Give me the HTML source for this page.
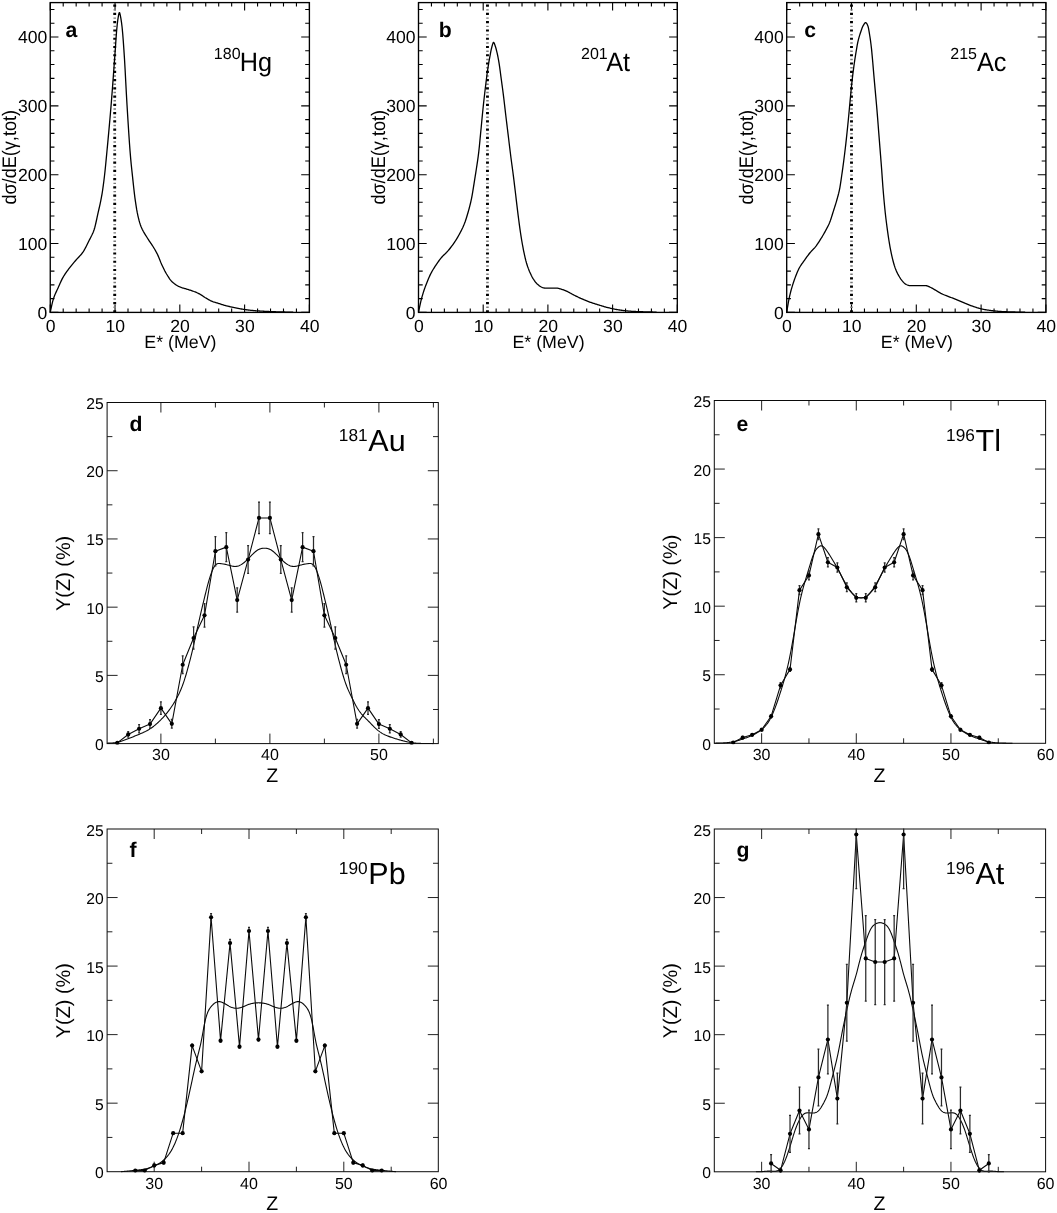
<!DOCTYPE html>
<html><head><meta charset="utf-8"><title>Figure</title>
<style>
html,body{margin:0;padding:0;background:#fff;}
body{width:1057px;height:1213px;overflow:hidden;font-family:"Liberation Sans", sans-serif;}
svg{display:block;filter:blur(0.3px);}
text{text-rendering:geometricPrecision;}
</style></head><body>
<svg width="1057" height="1213" viewBox="0 0 1057 1213">
<rect width="1057" height="1213" fill="#fff"/>
<g id="top" stroke="#000" fill="none">
<rect x="50.25" y="2.6" width="259.15" height="309.8" stroke-width="1.35"/>
<path d="M50.25 312.4v-8M50.25 2.6v8M63.21 312.4v-4M63.21 2.6v4M76.16 312.4v-4M76.16 2.6v4M89.12 312.4v-4M89.12 2.6v4M102.08 312.4v-4M102.08 2.6v4M115.04 312.4v-8M115.04 2.6v8M128 312.4v-4M128 2.6v4M140.95 312.4v-4M140.95 2.6v4M153.91 312.4v-4M153.91 2.6v4M166.87 312.4v-4M166.87 2.6v4M179.82 312.4v-8M179.82 2.6v8M192.78 312.4v-4M192.78 2.6v4M205.74 312.4v-4M205.74 2.6v4M218.7 312.4v-4M218.7 2.6v4M231.66 312.4v-4M231.66 2.6v4M244.61 312.4v-8M244.61 2.6v8M257.57 312.4v-4M257.57 2.6v4M270.53 312.4v-4M270.53 2.6v4M283.49 312.4v-4M283.49 2.6v4M296.44 312.4v-4M296.44 2.6v4M309.4 312.4v-8M309.4 2.6v8M50.25 312.4h8.2M309.4 312.4h-8.2M50.25 298.63h4.2M309.4 298.63h-4.2M50.25 284.86h4.2M309.4 284.86h-4.2M50.25 271.09h4.2M309.4 271.09h-4.2M50.25 257.32h4.2M309.4 257.32h-4.2M50.25 243.56h8.2M309.4 243.56h-8.2M50.25 229.79h4.2M309.4 229.79h-4.2M50.25 216.02h4.2M309.4 216.02h-4.2M50.25 202.25h4.2M309.4 202.25h-4.2M50.25 188.48h4.2M309.4 188.48h-4.2M50.25 174.71h8.2M309.4 174.71h-8.2M50.25 160.94h4.2M309.4 160.94h-4.2M50.25 147.17h4.2M309.4 147.17h-4.2M50.25 133.4h4.2M309.4 133.4h-4.2M50.25 119.64h4.2M309.4 119.64h-4.2M50.25 105.87h8.2M309.4 105.87h-8.2M50.25 92.1h4.2M309.4 92.1h-4.2M50.25 78.33h4.2M309.4 78.33h-4.2M50.25 64.56h4.2M309.4 64.56h-4.2M50.25 50.79h4.2M309.4 50.79h-4.2M50.25 37.02h8.2M309.4 37.02h-8.2M50.25 23.25h4.2M309.4 23.25h-4.2M50.25 9.48h4.2M309.4 9.48h-4.2" stroke-width="1.1"/>
<line x1="114.71" y1="4.6" x2="114.71" y2="312.4" stroke-width="2.9" stroke-dasharray="2.2 6.06"/>
<line x1="114.71" y1="9.2" x2="114.71" y2="312.4" stroke-width="2.5" stroke="#7a7a7a" stroke-dasharray="1.4 6.86"/>
<path d="M50.25 312.4 L50.86 309.39 L51.47 306.51 L52.08 303.83 L52.69 301.39 L53.29 299.25 L53.9 297.41 L54.51 295.77 L55.12 294.28 L55.73 292.9 L56.34 291.6 L56.95 290.33 L57.56 289.05 L58.17 287.73 L58.77 286.36 L59.38 284.97 L59.99 283.58 L60.6 282.21 L61.21 280.88 L61.82 279.61 L62.43 278.42 L63.04 277.32 L63.65 276.28 L64.25 275.29 L64.86 274.35 L65.47 273.43 L66.08 272.55 L66.69 271.69 L67.3 270.85 L67.91 270.02 L68.52 269.2 L69.13 268.39 L69.73 267.6 L70.34 266.83 L70.95 266.07 L71.56 265.32 L72.17 264.58 L72.78 263.86 L73.39 263.13 L74 262.42 L74.61 261.7 L75.22 260.99 L75.82 260.27 L76.43 259.56 L77.04 258.88 L77.65 258.22 L78.26 257.58 L78.87 256.94 L79.48 256.3 L80.09 255.64 L80.7 254.96 L81.3 254.25 L81.91 253.49 L82.52 252.68 L83.13 251.79 L83.74 250.84 L84.35 249.81 L84.96 248.73 L85.57 247.6 L86.18 246.43 L86.78 245.23 L87.39 244.01 L88 242.77 L88.61 241.54 L89.22 240.31 L89.83 239.11 L90.44 237.94 L91.05 236.78 L91.66 235.58 L92.26 234.31 L92.87 232.94 L93.48 231.43 L94.09 229.74 L94.7 227.72 L95.31 225.36 L95.92 222.77 L96.53 220.01 L97.14 217.19 L97.74 214.39 L98.35 211.68 L98.96 209.01 L99.57 206.32 L100.18 203.55 L100.79 200.62 L101.4 197.49 L102.01 194.07 L102.62 190.26 L103.22 185.96 L103.83 181.27 L104.44 176.24 L105.05 170.78 L105.66 164.71 L106.27 158.37 L106.88 152.02 L107.49 145.64 L108.1 139.17 L108.7 132.59 L109.31 125.88 L109.92 119.01 L110.53 111.96 L111.14 104.69 L111.75 97.11 L112.36 89.22 L112.97 81.12 L113.58 72.89 L114.19 64.6 L114.79 56.34 L115.4 47.91 L116.01 38.86 L116.62 30.58 L117.23 24.44 L117.84 19.53 L118.45 15.74 L119.06 12.91 L119.67 12.71 L120.27 15.22 L120.88 18.34 L121.49 22.39 L122.1 27.27 L122.71 33.69 L123.32 41.64 L123.93 50.41 L124.54 59.8 L125.15 70.53 L125.75 81.99 L126.36 93.46 L126.97 104.23 L127.58 114.17 L128.19 124.02 L128.8 133.56 L129.41 142.57 L130.02 150.82 L130.63 158.1 L131.23 164.44 L131.84 170.23 L132.45 175.88 L133.06 181.63 L133.67 187.3 L134.28 192.68 L134.89 197.57 L135.5 201.9 L136.11 205.96 L136.71 209.68 L137.32 212.98 L137.93 215.82 L138.54 218.39 L139.15 220.75 L139.76 222.88 L140.37 224.77 L140.98 226.41 L141.59 227.85 L142.19 229.17 L142.8 230.38 L143.41 231.51 L144.02 232.57 L144.63 233.58 L145.24 234.56 L145.85 235.53 L146.46 236.5 L147.07 237.51 L147.67 238.49 L148.28 239.45 L148.89 240.37 L149.5 241.27 L150.11 242.17 L150.72 243.05 L151.33 243.95 L151.94 244.85 L152.55 245.77 L153.15 246.73 L153.76 247.72 L154.37 248.74 L154.98 249.78 L155.59 250.85 L156.2 251.96 L156.81 253.11 L157.42 254.32 L158.03 255.62 L158.64 257.05 L159.24 258.55 L159.85 260.09 L160.46 261.62 L161.07 263.1 L161.68 264.47 L162.29 265.78 L162.9 267.06 L163.51 268.31 L164.12 269.54 L164.72 270.73 L165.33 271.87 L165.94 272.97 L166.55 274.02 L167.16 275.01 L167.77 275.98 L168.38 276.94 L168.99 277.87 L169.6 278.76 L170.2 279.59 L170.81 280.36 L171.42 281.06 L172.03 281.68 L172.64 282.23 L173.25 282.76 L173.86 283.26 L174.47 283.74 L175.08 284.19 L175.68 284.62 L176.29 285.03 L176.9 285.41 L177.51 285.77 L178.12 286.11 L178.73 286.42 L179.34 286.71 L179.95 286.98 L180.56 287.22 L181.16 287.45 L181.77 287.65 L182.38 287.85 L182.99 288.03 L183.6 288.2 L184.21 288.38 L184.82 288.55 L185.43 288.72 L186.04 288.91 L186.64 289.1 L187.25 289.29 L187.86 289.48 L188.47 289.66 L189.08 289.85 L189.69 290.03 L190.3 290.22 L190.91 290.42 L191.52 290.62 L192.12 290.82 L192.73 291.04 L193.34 291.26 L193.95 291.49 L194.56 291.73 L195.17 291.97 L195.78 292.22 L196.39 292.47 L197 292.74 L197.61 293.01 L198.21 293.3 L198.82 293.59 L199.43 293.9 L200.04 294.24 L200.65 294.6 L201.26 294.99 L201.87 295.39 L202.48 295.8 L203.09 296.22 L203.69 296.64 L204.3 297.05 L204.91 297.44 L205.52 297.81 L206.13 298.17 L206.74 298.53 L207.35 298.88 L207.96 299.23 L208.57 299.58 L209.17 299.92 L209.78 300.24 L210.39 300.56 L211 300.85 L211.61 301.13 L212.22 301.38 L212.83 301.62 L213.44 301.84 L214.05 302.04 L214.65 302.24 L215.26 302.42 L215.87 302.6 L216.48 302.78 L217.09 302.96 L217.7 303.14 L218.31 303.33 L218.92 303.52 L219.53 303.72 L220.13 303.92 L220.74 304.12 L221.35 304.33 L221.96 304.53 L222.57 304.73 L223.18 304.93 L223.79 305.12 L224.4 305.3 L225.01 305.47 L225.61 305.63 L226.22 305.79 L226.83 305.94 L227.44 306.09 L228.05 306.23 L228.66 306.37 L229.27 306.5 L229.88 306.64 L230.49 306.77 L231.09 306.91 L231.7 307.04 L232.31 307.18 L232.92 307.31 L233.53 307.45 L234.14 307.58 L234.75 307.71 L235.36 307.85 L235.97 307.97 L236.57 308.1 L237.18 308.22 L237.79 308.34 L238.4 308.46 L239.01 308.57 L239.62 308.68 L240.23 308.79 L240.84 308.9 L241.45 309.01 L242.06 309.11 L242.66 309.21 L243.27 309.31 L243.88 309.4 L244.49 309.49 L245.1 309.58 L245.71 309.67 L246.32 309.75 L246.93 309.83 L247.54 309.92 L248.14 309.99 L248.75 310.07 L249.36 310.14 L249.97 310.21 L250.58 310.28 L251.19 310.34 L251.8 310.41 L252.41 310.46 L253.02 310.52 L253.62 310.58 L254.23 310.63 L254.84 310.68 L255.45 310.73 L256.06 310.78 L256.67 310.82 L257.28 310.87 L257.89 310.91 L258.5 310.95 L259.1 310.99 L259.71 311.02 L260.32 311.06 L260.93 311.1 L261.54 311.13 L262.15 311.17 L262.76 311.2 L263.37 311.24 L263.98 311.27 L264.58 311.3 L265.19 311.33 L265.8 311.36 L266.41 311.39 L267.02 311.42 L267.63 311.45 L268.24 311.48 L268.85 311.5 L269.46 311.53 L270.06 311.56 L270.67 311.58 L271.28 311.6 L271.89 311.63 L272.5 311.65 L273.11 311.67 L273.72 311.69 L274.33 311.72 L274.94 311.74 L275.54 311.76 L276.15 311.78 L276.76 311.8 L277.37 311.82 L277.98 311.83 L278.59 311.85 L279.2 311.87 L279.81 311.89 L280.42 311.91 L281.03 311.92 L281.63 311.94 L282.24 311.95 L282.85 311.97 L283.46 311.99 L284.07 312 L284.68 312.02 L285.29 312.03 L285.9 312.05 L286.51 312.06 L287.11 312.07 L287.72 312.09 L288.33 312.1 L288.94 312.11 L289.55 312.13 L290.16 312.14 L290.77 312.15 L291.38 312.16 L291.99 312.17 L292.59 312.18 L293.2 312.19" stroke-width="1.3" stroke-linejoin="round"/>
<rect x="418.5" y="2.6" width="258.8" height="309.8" stroke-width="1.35"/>
<path d="M418.5 312.4v-8M418.5 2.6v8M431.44 312.4v-4M431.44 2.6v4M444.38 312.4v-4M444.38 2.6v4M457.32 312.4v-4M457.32 2.6v4M470.26 312.4v-4M470.26 2.6v4M483.2 312.4v-8M483.2 2.6v8M496.14 312.4v-4M496.14 2.6v4M509.08 312.4v-4M509.08 2.6v4M522.02 312.4v-4M522.02 2.6v4M534.96 312.4v-4M534.96 2.6v4M547.9 312.4v-8M547.9 2.6v8M560.84 312.4v-4M560.84 2.6v4M573.78 312.4v-4M573.78 2.6v4M586.72 312.4v-4M586.72 2.6v4M599.66 312.4v-4M599.66 2.6v4M612.6 312.4v-8M612.6 2.6v8M625.54 312.4v-4M625.54 2.6v4M638.48 312.4v-4M638.48 2.6v4M651.42 312.4v-4M651.42 2.6v4M664.36 312.4v-4M664.36 2.6v4M677.3 312.4v-8M677.3 2.6v8M418.5 312.4h8.2M677.3 312.4h-8.2M418.5 298.63h4.2M677.3 298.63h-4.2M418.5 284.86h4.2M677.3 284.86h-4.2M418.5 271.09h4.2M677.3 271.09h-4.2M418.5 257.32h4.2M677.3 257.32h-4.2M418.5 243.56h8.2M677.3 243.56h-8.2M418.5 229.79h4.2M677.3 229.79h-4.2M418.5 216.02h4.2M677.3 216.02h-4.2M418.5 202.25h4.2M677.3 202.25h-4.2M418.5 188.48h4.2M677.3 188.48h-4.2M418.5 174.71h8.2M677.3 174.71h-8.2M418.5 160.94h4.2M677.3 160.94h-4.2M418.5 147.17h4.2M677.3 147.17h-4.2M418.5 133.4h4.2M677.3 133.4h-4.2M418.5 119.64h4.2M677.3 119.64h-4.2M418.5 105.87h8.2M677.3 105.87h-8.2M418.5 92.1h4.2M677.3 92.1h-4.2M418.5 78.33h4.2M677.3 78.33h-4.2M418.5 64.56h4.2M677.3 64.56h-4.2M418.5 50.79h4.2M677.3 50.79h-4.2M418.5 37.02h8.2M677.3 37.02h-8.2M418.5 23.25h4.2M677.3 23.25h-4.2M418.5 9.48h4.2M677.3 9.48h-4.2" stroke-width="1.1"/>
<line x1="487.47" y1="4.6" x2="487.47" y2="312.4" stroke-width="2.9" stroke-dasharray="2.2 6.06"/>
<line x1="487.47" y1="9.2" x2="487.47" y2="312.4" stroke-width="2.5" stroke="#7a7a7a" stroke-dasharray="1.4 6.86"/>
<path d="M418.5 312.4 L419.1 309.4 L419.69 306.51 L420.29 303.75 L420.89 301.17 L421.48 298.78 L422.08 296.6 L422.68 294.56 L423.27 292.63 L423.87 290.81 L424.47 289.07 L425.06 287.4 L425.66 285.78 L426.26 284.21 L426.85 282.67 L427.45 281.17 L428.05 279.71 L428.64 278.29 L429.24 276.93 L429.84 275.62 L430.43 274.38 L431.03 273.2 L431.63 272.08 L432.22 271.01 L432.82 269.98 L433.42 268.99 L434.02 268.04 L434.61 267.11 L435.21 266.2 L435.81 265.3 L436.4 264.42 L437 263.54 L437.6 262.68 L438.19 261.83 L438.79 261 L439.39 260.19 L439.98 259.4 L440.58 258.64 L441.18 257.9 L441.77 257.2 L442.37 256.53 L442.97 255.91 L443.56 255.31 L444.16 254.73 L444.76 254.17 L445.35 253.6 L445.95 253.02 L446.55 252.42 L447.14 251.79 L447.74 251.12 L448.34 250.43 L448.93 249.72 L449.53 248.99 L450.13 248.25 L450.72 247.49 L451.32 246.71 L451.92 245.91 L452.51 245.1 L453.11 244.26 L453.71 243.41 L454.3 242.55 L454.9 241.66 L455.5 240.74 L456.09 239.8 L456.69 238.84 L457.29 237.85 L457.88 236.83 L458.48 235.79 L459.08 234.72 L459.67 233.63 L460.27 232.53 L460.87 231.4 L461.46 230.24 L462.06 229.04 L462.66 227.79 L463.25 226.47 L463.85 225.08 L464.45 223.59 L465.05 221.99 L465.64 220.27 L466.24 218.44 L466.84 216.53 L467.43 214.55 L468.03 212.5 L468.63 210.39 L469.22 208.21 L469.82 205.92 L470.42 203.48 L471.01 200.87 L471.61 198.04 L472.21 194.83 L472.8 191.31 L473.4 187.6 L474 183.84 L474.59 180.15 L475.19 176.44 L475.79 172.65 L476.38 168.76 L476.98 164.78 L477.58 160.79 L478.17 156.57 L478.77 151.85 L479.37 146.28 L479.96 140.14 L480.56 133.93 L481.16 127.76 L481.75 121.44 L482.35 115.19 L482.95 109.25 L483.54 103.64 L484.14 98.23 L484.74 93.02 L485.33 87.98 L485.93 83.05 L486.53 78.24 L487.12 73.66 L487.72 69.43 L488.32 65.56 L488.91 61.95 L489.51 58.56 L490.11 55.34 L490.7 52.17 L491.3 49.22 L491.9 46.79 L492.49 44.64 L493.09 42.86 L493.69 42.36 L494.28 43.31 L494.88 44.96 L495.48 46.68 L496.08 48.72 L496.67 51.09 L497.27 53.67 L497.87 56.5 L498.46 59.66 L499.06 63.12 L499.66 67.03 L500.25 71.46 L500.85 76.06 L501.45 80.51 L502.04 84.84 L502.64 89.24 L503.24 93.82 L503.83 98.68 L504.43 103.74 L505.03 108.89 L505.62 113.99 L506.22 118.96 L506.82 123.88 L507.41 128.78 L508.01 133.66 L508.61 138.54 L509.2 143.47 L509.8 148.39 L510.4 153.25 L510.99 157.97 L511.59 162.48 L512.19 166.85 L512.78 171.28 L513.38 175.92 L513.98 180.7 L514.57 185.56 L515.17 190.46 L515.77 195.48 L516.36 200.6 L516.96 205.68 L517.56 210.62 L518.15 215.36 L518.75 220.04 L519.35 224.58 L519.94 228.92 L520.54 232.98 L521.14 236.84 L521.73 240.52 L522.33 244 L522.93 247.24 L523.52 250.26 L524.12 253.17 L524.72 255.94 L525.31 258.52 L525.91 260.89 L526.51 263.01 L527.11 264.94 L527.7 266.73 L528.3 268.39 L528.9 269.94 L529.49 271.4 L530.09 272.78 L530.69 274.1 L531.28 275.34 L531.88 276.51 L532.48 277.59 L533.07 278.58 L533.67 279.52 L534.27 280.42 L534.86 281.26 L535.46 282.05 L536.06 282.78 L536.65 283.44 L537.25 284.03 L537.85 284.59 L538.44 285.12 L539.04 285.61 L539.64 286.05 L540.23 286.43 L540.83 286.74 L541.43 287.02 L542.02 287.3 L542.62 287.54 L543.22 287.76 L543.81 287.92 L544.41 288.01 L545.01 288.04 L545.6 288.06 L546.2 288.08 L546.8 288.09 L547.39 288.1 L547.99 288.1 L548.59 288.1 L549.18 288.1 L549.78 288.1 L550.38 288.1 L550.97 288.1 L551.57 288.1 L552.17 288.1 L552.76 288.1 L553.36 288.1 L553.96 288.1 L554.55 288.1 L555.15 288.1 L555.75 288.1 L556.35 288.1 L556.94 288.13 L557.54 288.21 L558.14 288.32 L558.73 288.47 L559.33 288.63 L559.93 288.8 L560.52 288.97 L561.12 289.14 L561.72 289.32 L562.31 289.51 L562.91 289.72 L563.51 289.94 L564.1 290.17 L564.7 290.41 L565.3 290.66 L565.89 290.92 L566.49 291.18 L567.09 291.44 L567.68 291.71 L568.28 292 L568.88 292.3 L569.47 292.62 L570.07 292.95 L570.67 293.28 L571.26 293.62 L571.86 293.95 L572.46 294.28 L573.05 294.6 L573.65 294.92 L574.25 295.22 L574.84 295.52 L575.44 295.82 L576.04 296.11 L576.63 296.41 L577.23 296.7 L577.83 296.99 L578.42 297.28 L579.02 297.56 L579.62 297.84 L580.21 298.11 L580.81 298.39 L581.41 298.65 L582 298.92 L582.6 299.18 L583.2 299.44 L583.79 299.7 L584.39 299.96 L584.99 300.2 L585.58 300.45 L586.18 300.69 L586.78 300.93 L587.38 301.16 L587.97 301.39 L588.57 301.61 L589.17 301.83 L589.76 302.05 L590.36 302.27 L590.96 302.48 L591.55 302.69 L592.15 302.89 L592.75 303.09 L593.34 303.29 L593.94 303.49 L594.54 303.68 L595.13 303.87 L595.73 304.05 L596.33 304.24 L596.92 304.42 L597.52 304.6 L598.12 304.78 L598.71 304.95 L599.31 305.13 L599.91 305.32 L600.5 305.5 L601.1 305.68 L601.7 305.87 L602.29 306.05 L602.89 306.24 L603.49 306.42 L604.08 306.59 L604.68 306.77 L605.28 306.94 L605.87 307.1 L606.47 307.26 L607.07 307.41 L607.66 307.56 L608.26 307.7 L608.86 307.85 L609.45 307.99 L610.05 308.12 L610.65 308.26 L611.24 308.39 L611.84 308.52 L612.44 308.65 L613.03 308.77 L613.63 308.9 L614.23 309.02 L614.82 309.15 L615.42 309.27 L616.02 309.38 L616.61 309.5 L617.21 309.61 L617.81 309.72 L618.41 309.82 L619 309.91 L619.6 310 L620.2 310.09 L620.79 310.17 L621.39 310.26 L621.99 310.34 L622.58 310.41 L623.18 310.49 L623.78 310.56 L624.37 310.62 L624.97 310.69 L625.57 310.75 L626.16 310.81 L626.76 310.87 L627.36 310.93 L627.95 310.99 L628.55 311.04 L629.15 311.1 L629.74 311.15 L630.34 311.2 L630.94 311.24 L631.53 311.29 L632.13 311.33 L632.73 311.37 L633.32 311.4 L633.92 311.43 L634.52 311.46 L635.11 311.49 L635.71 311.52 L636.31 311.54 L636.9 311.56 L637.5 311.59 L638.1 311.61 L638.69 311.63 L639.29 311.65 L639.89 311.67 L640.48 311.69 L641.08 311.71 L641.68 311.73 L642.27 311.74 L642.87 311.76 L643.47 311.78 L644.06 311.79 L644.66 311.81 L645.26 311.82 L645.85 311.84 L646.45 311.85 L647.05 311.87 L647.65 311.89 L648.24 311.9 L648.84 311.92 L649.44 311.93 L650.03 311.95 L650.63 311.96 L651.23 311.98 L651.82 312 L652.42 312.01 L653.02 312.03 L653.61 312.05 L654.21 312.06 L654.81 312.08 L655.4 312.09 L656 312.11 L656.6 312.12" stroke-width="1.3" stroke-linejoin="round"/>
<rect x="786.7" y="2.6" width="259.2" height="309.8" stroke-width="1.35"/>
<path d="M786.7 312.4v-8M786.7 2.6v8M799.66 312.4v-4M799.66 2.6v4M812.62 312.4v-4M812.62 2.6v4M825.58 312.4v-4M825.58 2.6v4M838.54 312.4v-4M838.54 2.6v4M851.5 312.4v-8M851.5 2.6v8M864.46 312.4v-4M864.46 2.6v4M877.42 312.4v-4M877.42 2.6v4M890.38 312.4v-4M890.38 2.6v4M903.34 312.4v-4M903.34 2.6v4M916.3 312.4v-8M916.3 2.6v8M929.26 312.4v-4M929.26 2.6v4M942.22 312.4v-4M942.22 2.6v4M955.18 312.4v-4M955.18 2.6v4M968.14 312.4v-4M968.14 2.6v4M981.1 312.4v-8M981.1 2.6v8M994.06 312.4v-4M994.06 2.6v4M1007.02 312.4v-4M1007.02 2.6v4M1019.98 312.4v-4M1019.98 2.6v4M1032.94 312.4v-4M1032.94 2.6v4M1045.9 312.4v-8M1045.9 2.6v8M786.7 312.4h8.2M1045.9 312.4h-8.2M786.7 298.63h4.2M1045.9 298.63h-4.2M786.7 284.86h4.2M1045.9 284.86h-4.2M786.7 271.09h4.2M1045.9 271.09h-4.2M786.7 257.32h4.2M1045.9 257.32h-4.2M786.7 243.56h8.2M1045.9 243.56h-8.2M786.7 229.79h4.2M1045.9 229.79h-4.2M786.7 216.02h4.2M1045.9 216.02h-4.2M786.7 202.25h4.2M1045.9 202.25h-4.2M786.7 188.48h4.2M1045.9 188.48h-4.2M786.7 174.71h8.2M1045.9 174.71h-8.2M786.7 160.94h4.2M1045.9 160.94h-4.2M786.7 147.17h4.2M1045.9 147.17h-4.2M786.7 133.4h4.2M1045.9 133.4h-4.2M786.7 119.64h4.2M1045.9 119.64h-4.2M786.7 105.87h8.2M1045.9 105.87h-8.2M786.7 92.1h4.2M1045.9 92.1h-4.2M786.7 78.33h4.2M1045.9 78.33h-4.2M786.7 64.56h4.2M1045.9 64.56h-4.2M786.7 50.79h4.2M1045.9 50.79h-4.2M786.7 37.02h8.2M1045.9 37.02h-8.2M786.7 23.25h4.2M1045.9 23.25h-4.2M786.7 9.48h4.2M1045.9 9.48h-4.2" stroke-width="1.1"/>
<line x1="851.5" y1="4.6" x2="851.5" y2="312.4" stroke-width="2.9" stroke-dasharray="2.2 6.06"/>
<line x1="851.5" y1="9.2" x2="851.5" y2="312.4" stroke-width="2.5" stroke="#7a7a7a" stroke-dasharray="1.4 6.86"/>
<path d="M786.7 312.4 L787.3 308.67 L787.9 305.09 L788.49 301.72 L789.09 298.63 L789.69 295.85 L790.29 293.36 L790.88 291.03 L791.48 288.86 L792.08 286.81 L792.68 284.87 L793.27 283.02 L793.87 281.25 L794.47 279.53 L795.07 277.86 L795.66 276.23 L796.26 274.66 L796.86 273.16 L797.46 271.74 L798.06 270.41 L798.65 269.17 L799.25 268.04 L799.85 266.99 L800.45 266.02 L801.04 265.11 L801.64 264.23 L802.24 263.39 L802.84 262.57 L803.43 261.74 L804.03 260.91 L804.63 260.05 L805.23 259.2 L805.82 258.34 L806.42 257.49 L807.02 256.65 L807.62 255.83 L808.22 255.02 L808.81 254.24 L809.41 253.48 L810.01 252.75 L810.61 252.06 L811.2 251.41 L811.8 250.77 L812.4 250.15 L813 249.53 L813.59 248.9 L814.19 248.25 L814.79 247.57 L815.39 246.85 L815.99 246.09 L816.58 245.29 L817.18 244.45 L817.78 243.59 L818.38 242.7 L818.97 241.79 L819.57 240.86 L820.17 239.92 L820.77 238.97 L821.36 238.01 L821.96 237.04 L822.56 236.04 L823.16 235.02 L823.75 233.98 L824.35 232.92 L824.95 231.84 L825.55 230.74 L826.15 229.64 L826.74 228.53 L827.34 227.41 L827.94 226.24 L828.54 225.01 L829.13 223.69 L829.73 222.25 L830.33 220.66 L830.93 218.92 L831.52 217.09 L832.12 215.2 L832.72 213.28 L833.32 211.38 L833.91 209.52 L834.51 207.66 L835.11 205.78 L835.71 203.86 L836.31 201.87 L836.9 199.79 L837.5 197.69 L838.1 195.53 L838.7 193.2 L839.29 190.59 L839.89 187.52 L840.49 183.87 L841.09 179.88 L841.68 175.78 L842.28 171.64 L842.88 167.32 L843.48 162.83 L844.07 158.22 L844.67 153.47 L845.27 148.52 L845.87 143.35 L846.47 137.93 L847.06 132.29 L847.66 126.48 L848.26 120.51 L848.86 114.22 L849.45 107.78 L850.05 101.43 L850.65 95.1 L851.25 88.8 L851.84 82.89 L852.44 77.59 L853.04 72.68 L853.64 68.1 L854.23 63.78 L854.83 59.71 L855.43 55.87 L856.03 52.22 L856.63 48.63 L857.22 45.19 L857.82 42.14 L858.42 39.62 L859.02 37.37 L859.61 35.34 L860.21 33.47 L860.81 31.7 L861.41 29.95 L862 28.29 L862.6 26.81 L863.2 25.61 L863.8 24.62 L864.4 23.66 L864.99 22.92 L865.59 22.57 L866.19 22.79 L866.79 23.58 L867.38 24.77 L867.98 26.2 L868.58 28.58 L869.18 32.05 L869.77 35.76 L870.37 39.72 L870.97 44.22 L871.57 49.43 L872.16 55.67 L872.76 62.28 L873.36 69.36 L873.96 76.41 L874.56 83.09 L875.15 89.67 L875.75 96.34 L876.35 103.01 L876.95 109.84 L877.54 117.09 L878.14 124.8 L878.74 132.59 L879.34 140.15 L879.93 147.62 L880.53 155.15 L881.13 162.7 L881.73 170.47 L882.32 178.87 L882.92 187.18 L883.52 194.51 L884.12 201.26 L884.72 207.52 L885.31 213.24 L885.91 218.46 L886.51 223.29 L887.11 227.81 L887.7 232.16 L888.3 236.33 L888.9 240.27 L889.5 243.93 L890.09 247.28 L890.69 250.42 L891.29 253.36 L891.89 256.1 L892.48 258.62 L893.08 260.99 L893.68 263.22 L894.28 265.28 L894.88 267.13 L895.47 268.75 L896.07 270.24 L896.67 271.62 L897.27 272.89 L897.86 274.07 L898.46 275.17 L899.06 276.22 L899.66 277.22 L900.25 278.17 L900.85 279.06 L901.45 279.89 L902.05 280.64 L902.64 281.32 L903.24 281.98 L903.84 282.61 L904.44 283.2 L905.04 283.73 L905.63 284.17 L906.23 284.52 L906.83 284.77 L907.43 285.02 L908.02 285.24 L908.62 285.42 L909.22 285.57 L909.82 285.66 L910.41 285.69 L911.01 285.69 L911.61 285.69 L912.21 285.69 L912.81 285.69 L913.4 285.69 L914 285.69 L914.6 285.69 L915.2 285.69 L915.79 285.69 L916.39 285.69 L916.99 285.69 L917.59 285.69 L918.18 285.69 L918.78 285.69 L919.38 285.69 L919.98 285.69 L920.57 285.69 L921.17 285.69 L921.77 285.69 L922.37 285.69 L922.97 285.69 L923.56 285.69 L924.16 285.69 L924.76 285.69 L925.36 285.69 L925.95 285.69 L926.55 285.73 L927.15 285.86 L927.75 286.06 L928.34 286.32 L928.94 286.61 L929.54 286.91 L930.14 287.21 L930.73 287.49 L931.33 287.78 L931.93 288.1 L932.53 288.43 L933.13 288.78 L933.72 289.13 L934.32 289.49 L934.92 289.84 L935.52 290.18 L936.11 290.53 L936.71 290.88 L937.31 291.24 L937.91 291.6 L938.5 291.96 L939.1 292.32 L939.7 292.67 L940.3 293.02 L940.89 293.35 L941.49 293.66 L942.09 293.96 L942.69 294.23 L943.29 294.5 L943.88 294.75 L944.48 294.99 L945.08 295.23 L945.68 295.46 L946.27 295.68 L946.87 295.91 L947.47 296.13 L948.07 296.35 L948.66 296.58 L949.26 296.81 L949.86 297.05 L950.46 297.28 L951.05 297.51 L951.65 297.74 L952.25 297.96 L952.85 298.19 L953.45 298.43 L954.04 298.66 L954.64 298.9 L955.24 299.14 L955.84 299.38 L956.43 299.63 L957.03 299.88 L957.63 300.14 L958.23 300.4 L958.82 300.65 L959.42 300.91 L960.02 301.17 L960.62 301.42 L961.22 301.68 L961.81 301.93 L962.41 302.18 L963.01 302.44 L963.61 302.69 L964.2 302.94 L964.8 303.19 L965.4 303.45 L966 303.69 L966.59 303.94 L967.19 304.18 L967.79 304.42 L968.39 304.65 L968.98 304.88 L969.58 305.1 L970.18 305.33 L970.78 305.55 L971.38 305.77 L971.97 305.98 L972.57 306.2 L973.17 306.4 L973.77 306.61 L974.36 306.81 L974.96 307 L975.56 307.2 L976.16 307.39 L976.75 307.59 L977.35 307.77 L977.95 307.96 L978.55 308.14 L979.14 308.31 L979.74 308.48 L980.34 308.63 L980.94 308.78 L981.54 308.92 L982.13 309.05 L982.73 309.18 L983.33 309.31 L983.93 309.42 L984.52 309.54 L985.12 309.65 L985.72 309.76 L986.32 309.86 L986.91 309.96 L987.51 310.05 L988.11 310.14 L988.71 310.23 L989.3 310.31 L989.9 310.39 L990.5 310.47 L991.1 310.55 L991.7 310.62 L992.29 310.69 L992.89 310.76 L993.49 310.83 L994.09 310.89 L994.68 310.95 L995.28 311.01 L995.88 311.07 L996.48 311.12 L997.07 311.18 L997.67 311.23 L998.27 311.28 L998.87 311.33 L999.46 311.38 L1000.06 311.43 L1000.66 311.47 L1001.26 311.51 L1001.86 311.54 L1002.45 311.57 L1003.05 311.6 L1003.65 311.63 L1004.25 311.66 L1004.84 311.68 L1005.44 311.71 L1006.04 311.73 L1006.64 311.75 L1007.23 311.78 L1007.83 311.8 L1008.43 311.82 L1009.03 311.84 L1009.62 311.86 L1010.22 311.88 L1010.82 311.9 L1011.42 311.92 L1012.02 311.94 L1012.61 311.96 L1013.21 311.97 L1013.81 311.99 L1014.41 312.01 L1015 312.02 L1015.6 312.03 L1016.2 312.05 L1016.8 312.06 L1017.39 312.08 L1017.99 312.09 L1018.59 312.1 L1019.19 312.11 L1019.79 312.12 L1020.38 312.13 L1020.98 312.14 L1021.58 312.15 L1022.18 312.16 L1022.77 312.17 L1023.37 312.17 L1023.97 312.18 L1024.57 312.19 L1025.16 312.19" stroke-width="1.3" stroke-linejoin="round"/>
</g>
<g id="toptext" font-family='"Liberation Sans", sans-serif' fill="#000" opacity="0.999">
<text x="50.55" y="332.4" font-size="17.6" text-anchor="middle">0</text>
<text x="115.34" y="332.4" font-size="17.6" text-anchor="middle">10</text>
<text x="180.12" y="332.4" font-size="17.6" text-anchor="middle">20</text>
<text x="244.91" y="332.4" font-size="17.6" text-anchor="middle">30</text>
<text x="309.7" y="332.4" font-size="17.6" text-anchor="middle">40</text>
<text x="47.25" y="318.7" font-size="17.6" text-anchor="end">0</text>
<text x="47.25" y="249.86" font-size="17.6" text-anchor="end">100</text>
<text x="47.25" y="181.01" font-size="17.6" text-anchor="end">200</text>
<text x="47.25" y="112.17" font-size="17.6" text-anchor="end">300</text>
<text x="47.25" y="43.32" font-size="17.6" text-anchor="end">400</text>
<text x="180.42" y="348" font-size="17.8" text-anchor="middle">E* (MeV)</text>
<text transform="translate(16.25 157.3) rotate(-90) scale(1 1.08)" font-size="18.1" text-anchor="middle">dσ/dE(γ,tot)</text>
<text x="65.45" y="36.8" font-size="21.2" font-weight="bold">a</text>
<text x="240.55" y="58.9" font-size="16" text-anchor="end">180</text>
<text transform="translate(239.65 71.1) scale(0.95 1)" font-size="26.6">Hg</text>
<text x="418.8" y="332.4" font-size="17.6" text-anchor="middle">0</text>
<text x="483.5" y="332.4" font-size="17.6" text-anchor="middle">10</text>
<text x="548.2" y="332.4" font-size="17.6" text-anchor="middle">20</text>
<text x="612.9" y="332.4" font-size="17.6" text-anchor="middle">30</text>
<text x="677.6" y="332.4" font-size="17.6" text-anchor="middle">40</text>
<text x="415.5" y="318.7" font-size="17.6" text-anchor="end">0</text>
<text x="415.5" y="249.86" font-size="17.6" text-anchor="end">100</text>
<text x="415.5" y="181.01" font-size="17.6" text-anchor="end">200</text>
<text x="415.5" y="112.17" font-size="17.6" text-anchor="end">300</text>
<text x="415.5" y="43.32" font-size="17.6" text-anchor="end">400</text>
<text x="548.5" y="348" font-size="17.8" text-anchor="middle">E* (MeV)</text>
<text transform="translate(384.5 157.3) rotate(-90) scale(1 1.08)" font-size="18.1" text-anchor="middle">dσ/dE(γ,tot)</text>
<text x="438.7" y="36.8" font-size="21.2" font-weight="bold">b</text>
<text x="607.7" y="58.9" font-size="16" text-anchor="end">201</text>
<text transform="translate(606.2 71.1) scale(0.95 1)" font-size="26.6">At</text>
<text x="787" y="332.4" font-size="17.6" text-anchor="middle">0</text>
<text x="851.8" y="332.4" font-size="17.6" text-anchor="middle">10</text>
<text x="916.6" y="332.4" font-size="17.6" text-anchor="middle">20</text>
<text x="981.4" y="332.4" font-size="17.6" text-anchor="middle">30</text>
<text x="1046.2" y="332.4" font-size="17.6" text-anchor="middle">40</text>
<text x="783.7" y="318.7" font-size="17.6" text-anchor="end">0</text>
<text x="783.7" y="249.86" font-size="17.6" text-anchor="end">100</text>
<text x="783.7" y="181.01" font-size="17.6" text-anchor="end">200</text>
<text x="783.7" y="112.17" font-size="17.6" text-anchor="end">300</text>
<text x="783.7" y="43.32" font-size="17.6" text-anchor="end">400</text>
<text x="916.9" y="348" font-size="17.8" text-anchor="middle">E* (MeV)</text>
<text transform="translate(752.7 157.3) rotate(-90) scale(1 1.08)" font-size="18.1" text-anchor="middle">dσ/dE(γ,tot)</text>
<text x="804.3" y="36.8" font-size="21.2" font-weight="bold">c</text>
<text x="977" y="58.9" font-size="16" text-anchor="end">215</text>
<text transform="translate(977 71.1) scale(0.95 1)" font-size="26.6">Ac</text>
</g>
<g id="low" stroke="#0a0a0a" fill="none">
<clipPath id="cp0"><rect x="107.1" y="402" width="331.2" height="342.6"/></clipPath>
<rect x="107.1" y="402.5" width="331.2" height="341.1" stroke-width="1"/>
<path d="M160.9 743.6v-10M160.9 402.5v10M269.9 743.6v-10M269.9 402.5v10M378.9 743.6v-10M378.9 402.5v10M215.4 743.6v-5M215.4 402.5v5M324.4 743.6v-5M324.4 402.5v5M433.4 743.6v-5M433.4 402.5v5M107.1 709.49h5.3M438.3 709.49h-5.3M107.1 675.38h10.5M438.3 675.38h-10.5M107.1 641.27h5.3M438.3 641.27h-5.3M107.1 607.16h10.5M438.3 607.16h-10.5M107.1 573.05h5.3M438.3 573.05h-5.3M107.1 538.94h10.5M438.3 538.94h-10.5M107.1 504.83h5.3M438.3 504.83h-5.3M107.1 470.72h10.5M438.3 470.72h-10.5M107.1 436.61h5.3M438.3 436.61h-5.3" stroke-width="0.9"/>
<g clip-path="url(#cp0)">
<path d="M95.5 743.6 L96.18 743.53 L96.85 743.47 L97.53 743.42 L98.21 743.38 L98.89 743.34 L99.56 743.31 L100.24 743.29 L100.92 743.27 L101.59 743.25 L102.27 743.24 L102.95 743.23 L103.63 743.22 L104.3 743.21 L104.98 743.21 L105.66 743.2 L106.33 743.19 L107.01 743.18 L107.69 743.17 L108.37 743.15 L109.04 743.13 L109.72 743.1 L110.4 743.07 L111.07 743.03 L111.75 742.99 L112.43 742.93 L113.11 742.87 L113.78 742.8 L114.46 742.71 L115.14 742.62 L115.81 742.51 L116.49 742.39 L117.17 742.26 L117.85 742.12 L118.52 741.96 L119.2 741.78 L119.88 741.6 L120.55 741.4 L121.23 741.2 L121.91 740.98 L122.59 740.76 L123.26 740.53 L123.94 740.29 L124.62 740.05 L125.29 739.8 L125.97 739.54 L126.65 739.29 L127.33 739.03 L128 738.76 L128.68 738.5 L129.36 738.24 L130.03 737.97 L130.71 737.71 L131.39 737.44 L132.07 737.17 L132.74 736.91 L133.42 736.64 L134.1 736.37 L134.77 736.09 L135.45 735.82 L136.13 735.55 L136.81 735.27 L137.48 734.99 L138.16 734.71 L138.84 734.43 L139.52 734.15 L140.19 733.86 L140.87 733.57 L141.55 733.28 L142.22 732.98 L142.9 732.68 L143.58 732.37 L144.26 732.05 L144.93 731.72 L145.61 731.38 L146.29 731.03 L146.96 730.67 L147.64 730.29 L148.32 729.9 L149 729.5 L149.67 729.07 L150.35 728.64 L151.03 728.18 L151.7 727.71 L152.38 727.22 L153.06 726.71 L153.74 726.19 L154.41 725.65 L155.09 725.1 L155.77 724.53 L156.44 723.94 L157.12 723.34 L157.8 722.72 L158.48 722.09 L159.15 721.45 L159.83 720.79 L160.51 720.12 L161.18 719.43 L161.86 718.73 L162.54 718.02 L163.22 717.29 L163.89 716.54 L164.57 715.78 L165.25 715 L165.92 714.2 L166.6 713.38 L167.28 712.54 L167.96 711.68 L168.63 710.8 L169.31 709.89 L169.99 708.96 L170.66 708.01 L171.34 707.03 L172.02 706.02 L172.7 704.99 L173.37 703.93 L174.05 702.84 L174.73 701.71 L175.4 700.55 L176.08 699.36 L176.76 698.13 L177.44 696.86 L178.11 695.54 L178.79 694.18 L179.47 692.76 L180.14 691.27 L180.82 689.71 L181.5 688.07 L182.18 686.34 L182.85 684.51 L183.53 682.58 L184.21 680.56 L184.88 678.44 L185.56 676.25 L186.24 673.97 L186.92 671.63 L187.59 669.22 L188.27 666.75 L188.95 664.23 L189.62 661.65 L190.3 659.02 L190.98 656.33 L191.66 653.58 L192.33 650.77 L193.01 647.91 L193.69 644.98 L194.36 642 L195.04 638.97 L195.72 635.91 L196.4 632.83 L197.07 629.74 L197.75 626.66 L198.43 623.6 L199.1 620.56 L199.78 617.57 L200.46 614.61 L201.14 611.69 L201.81 608.8 L202.49 605.94 L203.17 603.11 L203.84 600.31 L204.52 597.52 L205.2 594.75 L205.88 592.02 L206.55 589.34 L207.23 586.72 L207.91 584.18 L208.58 581.73 L209.26 579.39 L209.94 577.18 L210.62 575.1 L211.29 573.17 L211.97 571.4 L212.65 569.79 L213.32 568.36 L214 567.11 L214.68 566.05 L215.36 565.19 L216.03 564.53 L216.71 564.05 L217.39 563.73 L218.06 563.55 L218.74 563.47 L219.42 563.48 L220.1 563.54 L220.77 563.62 L221.45 563.72 L222.13 563.82 L222.81 563.92 L223.48 564.03 L224.16 564.15 L224.84 564.28 L225.51 564.41 L226.19 564.56 L226.87 564.73 L227.55 564.91 L228.22 565.09 L228.9 565.28 L229.58 565.47 L230.25 565.65 L230.93 565.82 L231.61 565.98 L232.29 566.12 L232.96 566.24 L233.64 566.33 L234.32 566.4 L234.99 566.43 L235.67 566.42 L236.35 566.36 L237.03 566.26 L237.7 566.11 L238.38 565.91 L239.06 565.66 L239.73 565.36 L240.41 565.02 L241.09 564.64 L241.77 564.22 L242.44 563.77 L243.12 563.28 L243.8 562.76 L244.47 562.21 L245.15 561.63 L245.83 561.03 L246.51 560.4 L247.18 559.76 L247.86 559.1 L248.54 558.42 L249.21 557.74 L249.89 557.04 L250.57 556.35 L251.25 555.65 L251.92 554.97 L252.6 554.29 L253.28 553.63 L253.95 552.99 L254.63 552.38 L255.31 551.79 L255.99 551.24 L256.66 550.73 L257.34 550.26 L258.02 549.83 L258.69 549.46 L259.37 549.14 L260.05 548.88 L260.73 548.67 L261.4 548.51 L262.08 548.38 L262.76 548.3 L263.43 548.24 L264.11 548.22 L264.79 548.22 L265.47 548.24 L266.14 548.3 L266.82 548.38 L267.5 548.51 L268.17 548.67 L268.85 548.88 L269.53 549.14 L270.21 549.46 L270.88 549.83 L271.56 550.26 L272.24 550.73 L272.91 551.24 L273.59 551.79 L274.27 552.38 L274.95 552.99 L275.62 553.63 L276.3 554.29 L276.98 554.97 L277.65 555.65 L278.33 556.35 L279.01 557.04 L279.69 557.74 L280.36 558.42 L281.04 559.1 L281.72 559.76 L282.39 560.4 L283.07 561.03 L283.75 561.63 L284.43 562.21 L285.1 562.76 L285.78 563.28 L286.46 563.77 L287.13 564.22 L287.81 564.64 L288.49 565.02 L289.17 565.36 L289.84 565.66 L290.52 565.91 L291.2 566.11 L291.87 566.26 L292.55 566.36 L293.23 566.42 L293.91 566.43 L294.58 566.4 L295.26 566.33 L295.94 566.24 L296.61 566.12 L297.29 565.98 L297.97 565.82 L298.65 565.65 L299.32 565.47 L300 565.28 L300.68 565.09 L301.35 564.91 L302.03 564.73 L302.71 564.56 L303.39 564.41 L304.06 564.28 L304.74 564.15 L305.42 564.03 L306.09 563.92 L306.77 563.82 L307.45 563.72 L308.13 563.62 L308.8 563.54 L309.48 563.48 L310.16 563.47 L310.84 563.55 L311.51 563.73 L312.19 564.05 L312.87 564.53 L313.54 565.19 L314.22 566.05 L314.9 567.11 L315.58 568.36 L316.25 569.79 L316.93 571.4 L317.61 573.17 L318.28 575.1 L318.96 577.18 L319.64 579.39 L320.32 581.73 L320.99 584.18 L321.67 586.72 L322.35 589.34 L323.02 592.02 L323.7 594.75 L324.38 597.52 L325.06 600.31 L325.73 603.11 L326.41 605.94 L327.09 608.8 L327.76 611.69 L328.44 614.61 L329.12 617.57 L329.8 620.56 L330.47 623.6 L331.15 626.66 L331.83 629.75 L332.5 632.84 L333.18 635.92 L333.86 638.98 L334.54 642 L335.21 644.98 L335.89 647.9 L336.57 650.77 L337.24 653.57 L337.92 656.32 L338.6 659.01 L339.28 661.64 L339.95 664.22 L340.63 666.75 L341.31 669.23 L341.98 671.65 L342.66 674 L343.34 676.28 L344.02 678.48 L344.69 680.59 L345.37 682.61 L346.05 684.52 L346.72 686.31 L347.4 688.01 L348.08 689.61 L348.76 691.15 L349.43 692.62 L350.11 694.05 L350.79 695.45 L351.46 696.83 L352.14 698.21 L352.82 699.6 L353.5 700.97 L354.17 702.32 L354.85 703.64 L355.53 704.92 L356.2 706.16 L356.88 707.35 L357.56 708.47 L358.24 709.53 L358.91 710.53 L359.59 711.48 L360.27 712.38 L360.94 713.23 L361.62 714.05 L362.3 714.83 L362.98 715.58 L363.65 716.3 L364.33 717.01 L365.01 717.7 L365.68 718.38 L366.36 719.05 L367.04 719.72 L367.72 720.39 L368.39 721.07 L369.07 721.76 L369.75 722.46 L370.42 723.16 L371.1 723.86 L371.78 724.55 L372.46 725.25 L373.13 725.94 L373.81 726.61 L374.49 727.28 L375.16 727.94 L375.84 728.57 L376.52 729.19 L377.2 729.79 L377.87 730.36 L378.55 730.91 L379.23 731.43 L379.9 731.92 L380.58 732.39 L381.26 732.82 L381.94 733.24 L382.61 733.63 L383.29 734 L383.97 734.35 L384.64 734.68 L385.32 734.99 L386 735.3 L386.68 735.58 L387.35 735.86 L388.03 736.12 L388.71 736.38 L389.38 736.63 L390.06 736.87 L390.74 737.11 L391.42 737.35 L392.09 737.58 L392.77 737.8 L393.45 738.02 L394.13 738.24 L394.8 738.46 L395.48 738.67 L396.16 738.87 L396.83 739.08 L397.51 739.28 L398.19 739.48 L398.87 739.67 L399.54 739.87 L400.22 740.06 L400.9 740.24 L401.57 740.43 L402.25 740.61 L402.93 740.79 L403.61 740.97 L404.28 741.14 L404.96 741.3 L405.64 741.47 L406.31 741.63 L406.99 741.78 L407.67 741.92 L408.35 742.07 L409.02 742.2 L409.7 742.33 L410.38 742.45 L411.05 742.56 L411.73 742.66 L412.41 742.76 L413.09 742.85 L413.76 742.93 L414.44 743.01 L415.12 743.07 L415.79 743.13 L416.47 743.19 L417.15 743.24 L417.83 743.28 L418.5 743.32 L419.18 743.35 L419.86 743.38 L420.53 743.41 L421.21 743.43 L421.89 743.45 L422.57 743.46 L423.24 743.48 L423.92 743.49 L424.6 743.5 L425.27 743.51 L425.95 743.51 L426.63 743.52 L427.31 743.52 L427.98 743.53 L428.66 743.53 L429.34 743.54 L430.01 743.54 L430.69 743.55 L431.37 743.56 L432.05 743.57 L432.72 743.58 L433.4 743.6" stroke-width="1.1" stroke-linejoin="round"/>
<path d="M117.3 742.92 L128.2 734.46 L139.1 728.73 L150 724.09 L160.9 708.13 L171.8 723.82 L182.7 664.74 L193.6 638 L204.5 615.35 L215.4 551.22 L226.3 547.13 L237.2 600.07 L248.1 559.54 L259 517.93 L269.9 517.93 L280.8 559.54 L291.7 600.07 L302.6 547.13 L313.5 551.22 L324.4 615.35 L335.3 638 L346.2 664.74 L357.1 723.82 L368 708.13 L378.9 724.09 L389.8 728.73 L400.7 734.46 L411.6 742.92" stroke-width="1.1" stroke-linejoin="round"/>
<path d="M117.3 742.24V743.6M116.3 742.24h2M116.3 743.6h2M128.2 731.73V737.19M127.2 731.73h2M127.2 737.19h2M139.1 724.63V732.82M138.1 724.63h2M138.1 732.82h2M150 719.72V728.46M149 719.72h2M149 728.46h2M160.9 701.85V714.4M159.9 701.85h2M159.9 714.4h2M171.8 719.45V728.18M170.8 719.45h2M170.8 728.18h2M182.7 655.87V673.61M181.7 655.87h2M181.7 673.61h2M193.6 626.94V649.05M192.6 626.94h2M192.6 649.05h2M204.5 603.61V627.08M203.5 603.61h2M203.5 627.08h2M215.4 536.62V565.82M214.4 536.62h2M214.4 565.82h2M226.3 532.53V561.73M225.3 532.53h2M225.3 561.73h2M237.2 587.92V612.21M236.2 587.92h2M236.2 612.21h2M248.1 545.63V573.46M247.1 545.63h2M247.1 573.46h2M259 502.24V533.62M258 502.24h2M258 533.62h2M269.9 502.24V533.62M268.9 502.24h2M268.9 533.62h2M280.8 545.63V573.46M279.8 545.63h2M279.8 573.46h2M291.7 587.92V612.21M290.7 587.92h2M290.7 612.21h2M302.6 532.53V561.73M301.6 532.53h2M301.6 561.73h2M313.5 536.62V565.82M312.5 536.62h2M312.5 565.82h2M324.4 603.61V627.08M323.4 603.61h2M323.4 627.08h2M335.3 626.94V649.05M334.3 626.94h2M334.3 649.05h2M346.2 655.87V673.61M345.2 655.87h2M345.2 673.61h2M357.1 719.45V728.18M356.1 719.45h2M356.1 728.18h2M368 701.85V714.4M367 701.85h2M367 714.4h2M378.9 719.72V728.46M377.9 719.72h2M377.9 728.46h2M389.8 724.63V732.82M388.8 724.63h2M388.8 732.82h2M400.7 731.73V737.19M399.7 731.73h2M399.7 737.19h2M411.6 742.24V743.6M410.6 742.24h2M410.6 743.6h2" stroke-width="1.25" stroke="#2a2a2a"/>
<circle cx="117.3" cy="742.92" r="2.1" fill="#000" stroke="none"/>
<circle cx="128.2" cy="734.46" r="2.1" fill="#000" stroke="none"/>
<circle cx="139.1" cy="728.73" r="2.1" fill="#000" stroke="none"/>
<circle cx="150" cy="724.09" r="2.1" fill="#000" stroke="none"/>
<circle cx="160.9" cy="708.13" r="2.1" fill="#000" stroke="none"/>
<circle cx="171.8" cy="723.82" r="2.1" fill="#000" stroke="none"/>
<circle cx="182.7" cy="664.74" r="2.1" fill="#000" stroke="none"/>
<circle cx="193.6" cy="638" r="2.1" fill="#000" stroke="none"/>
<circle cx="204.5" cy="615.35" r="2.1" fill="#000" stroke="none"/>
<circle cx="215.4" cy="551.22" r="2.1" fill="#000" stroke="none"/>
<circle cx="226.3" cy="547.13" r="2.1" fill="#000" stroke="none"/>
<circle cx="237.2" cy="600.07" r="2.1" fill="#000" stroke="none"/>
<circle cx="248.1" cy="559.54" r="2.1" fill="#000" stroke="none"/>
<circle cx="259" cy="517.93" r="2.1" fill="#000" stroke="none"/>
<circle cx="269.9" cy="517.93" r="2.1" fill="#000" stroke="none"/>
<circle cx="280.8" cy="559.54" r="2.1" fill="#000" stroke="none"/>
<circle cx="291.7" cy="600.07" r="2.1" fill="#000" stroke="none"/>
<circle cx="302.6" cy="547.13" r="2.1" fill="#000" stroke="none"/>
<circle cx="313.5" cy="551.22" r="2.1" fill="#000" stroke="none"/>
<circle cx="324.4" cy="615.35" r="2.1" fill="#000" stroke="none"/>
<circle cx="335.3" cy="638" r="2.1" fill="#000" stroke="none"/>
<circle cx="346.2" cy="664.74" r="2.1" fill="#000" stroke="none"/>
<circle cx="357.1" cy="723.82" r="2.1" fill="#000" stroke="none"/>
<circle cx="368" cy="708.13" r="2.1" fill="#000" stroke="none"/>
<circle cx="378.9" cy="724.09" r="2.1" fill="#000" stroke="none"/>
<circle cx="389.8" cy="728.73" r="2.1" fill="#000" stroke="none"/>
<circle cx="400.7" cy="734.46" r="2.1" fill="#000" stroke="none"/>
<circle cx="411.6" cy="742.92" r="2.1" fill="#000" stroke="none"/>
</g>
<clipPath id="cp1"><rect x="714.3" y="400" width="331.3" height="344.3"/></clipPath>
<rect x="714.3" y="400.5" width="331.3" height="342.8" stroke-width="1"/>
<path d="M761.63 743.3v-10M761.63 400.5v10M856.29 743.3v-10M856.29 400.5v10M950.95 743.3v-10M950.95 400.5v10M808.96 743.3v-5M808.96 400.5v5M903.62 743.3v-5M903.62 400.5v5M998.28 743.3v-5M998.28 400.5v5M714.3 709.02h5.3M1045.6 709.02h-5.3M714.3 674.74h10.5M1045.6 674.74h-10.5M714.3 640.46h5.3M1045.6 640.46h-5.3M714.3 606.18h10.5M1045.6 606.18h-10.5M714.3 571.9h5.3M1045.6 571.9h-5.3M714.3 537.62h10.5M1045.6 537.62h-10.5M714.3 503.34h5.3M1045.6 503.34h-5.3M714.3 469.06h10.5M1045.6 469.06h-10.5M714.3 434.78h5.3M1045.6 434.78h-5.3" stroke-width="0.9"/>
<g clip-path="url(#cp1)">
<path d="M709.57 743.3 L710.17 743.29 L710.78 743.27 L711.39 743.26 L712 743.25 L712.6 743.24 L713.21 743.22 L713.82 743.21 L714.42 743.2 L715.03 743.19 L715.64 743.18 L716.24 743.16 L716.85 743.15 L717.46 743.13 L718.07 743.12 L718.67 743.1 L719.28 743.08 L719.89 743.06 L720.49 743.04 L721.1 743.02 L721.71 742.99 L722.31 742.96 L722.92 742.93 L723.53 742.9 L724.14 742.87 L724.74 742.83 L725.35 742.79 L725.96 742.75 L726.56 742.7 L727.17 742.65 L727.78 742.59 L728.39 742.53 L728.99 742.46 L729.6 742.39 L730.21 742.31 L730.81 742.22 L731.42 742.12 L732.03 742.02 L732.63 741.91 L733.24 741.79 L733.85 741.66 L734.46 741.52 L735.06 741.38 L735.67 741.23 L736.28 741.07 L736.88 740.9 L737.49 740.73 L738.1 740.55 L738.7 740.36 L739.31 740.17 L739.92 739.98 L740.53 739.78 L741.13 739.58 L741.74 739.38 L742.35 739.17 L742.95 738.96 L743.56 738.75 L744.17 738.54 L744.78 738.32 L745.38 738.1 L745.99 737.88 L746.6 737.65 L747.2 737.42 L747.81 737.19 L748.42 736.95 L749.02 736.7 L749.63 736.45 L750.24 736.2 L750.85 735.94 L751.45 735.67 L752.06 735.39 L752.67 735.11 L753.27 734.83 L753.88 734.53 L754.49 734.22 L755.09 733.91 L755.7 733.58 L756.31 733.24 L756.92 732.88 L757.52 732.52 L758.13 732.13 L758.74 731.73 L759.34 731.32 L759.95 730.89 L760.56 730.43 L761.17 729.96 L761.77 729.47 L762.38 728.96 L762.99 728.42 L763.59 727.85 L764.2 727.25 L764.81 726.62 L765.41 725.95 L766.02 725.23 L766.63 724.48 L767.24 723.67 L767.84 722.82 L768.45 721.91 L769.06 720.95 L769.66 719.92 L770.27 718.83 L770.88 717.68 L771.48 716.46 L772.09 715.16 L772.7 713.81 L773.31 712.39 L773.91 710.91 L774.52 709.38 L775.13 707.8 L775.73 706.17 L776.34 704.49 L776.95 702.77 L777.56 701.02 L778.16 699.23 L778.77 697.41 L779.38 695.56 L779.98 693.68 L780.59 691.79 L781.2 689.88 L781.8 687.94 L782.41 685.97 L783.02 683.96 L783.63 681.9 L784.23 679.79 L784.84 677.61 L785.45 675.37 L786.05 673.06 L786.66 670.66 L787.27 668.17 L787.87 665.59 L788.48 662.9 L789.09 660.11 L789.7 657.19 L790.3 654.15 L790.91 650.99 L791.52 647.72 L792.12 644.37 L792.73 640.96 L793.34 637.49 L793.95 633.98 L794.55 630.46 L795.16 626.95 L795.77 623.45 L796.37 619.99 L796.98 616.58 L797.59 613.25 L798.19 610 L798.8 606.86 L799.41 603.85 L800.02 600.98 L800.62 598.24 L801.23 595.62 L801.84 593.12 L802.44 590.72 L803.05 588.41 L803.66 586.18 L804.26 584.02 L804.87 581.92 L805.48 579.87 L806.09 577.85 L806.69 575.86 L807.3 573.89 L807.91 571.91 L808.51 569.94 L809.12 567.94 L809.73 565.93 L810.34 563.92 L810.94 561.94 L811.55 560.02 L812.16 558.19 L812.76 556.46 L813.37 554.86 L813.98 553.42 L814.58 552.15 L815.19 551.02 L815.8 550.04 L816.41 549.19 L817.01 548.44 L817.62 547.8 L818.23 547.25 L818.83 546.77 L819.44 546.37 L820.05 546.07 L820.65 545.89 L821.26 545.85 L821.87 545.95 L822.48 546.19 L823.08 546.56 L823.69 547.04 L824.3 547.62 L824.9 548.29 L825.51 549.04 L826.12 549.84 L826.73 550.7 L827.33 551.59 L827.94 552.5 L828.55 553.42 L829.15 554.36 L829.76 555.3 L830.37 556.26 L830.97 557.23 L831.58 558.21 L832.19 559.2 L832.8 560.21 L833.4 561.23 L834.01 562.26 L834.62 563.3 L835.22 564.36 L835.83 565.43 L836.44 566.52 L837.04 567.62 L837.65 568.74 L838.26 569.87 L838.87 571.01 L839.47 572.16 L840.08 573.32 L840.69 574.48 L841.29 575.63 L841.9 576.78 L842.51 577.93 L843.12 579.07 L843.72 580.19 L844.33 581.29 L844.94 582.38 L845.54 583.45 L846.15 584.49 L846.76 585.5 L847.36 586.49 L847.97 587.44 L848.58 588.35 L849.19 589.24 L849.79 590.08 L850.4 590.89 L851.01 591.67 L851.61 592.4 L852.22 593.09 L852.83 593.74 L853.44 594.35 L854.04 594.91 L854.65 595.42 L855.26 595.89 L855.86 596.31 L856.47 596.69 L857.08 597.01 L857.68 597.28 L858.29 597.51 L858.9 597.69 L859.51 597.82 L860.11 597.9 L860.72 597.95 L861.33 597.95 L861.93 597.9 L862.54 597.82 L863.15 597.69 L863.75 597.51 L864.36 597.28 L864.97 597.01 L865.58 596.69 L866.18 596.31 L866.79 595.89 L867.4 595.42 L868 594.91 L868.61 594.35 L869.22 593.74 L869.83 593.09 L870.43 592.4 L871.04 591.67 L871.65 590.89 L872.25 590.08 L872.86 589.24 L873.47 588.35 L874.07 587.44 L874.68 586.49 L875.29 585.5 L875.9 584.49 L876.5 583.45 L877.11 582.38 L877.72 581.29 L878.32 580.19 L878.93 579.07 L879.54 577.93 L880.14 576.78 L880.75 575.63 L881.36 574.48 L881.97 573.32 L882.57 572.16 L883.18 571.01 L883.79 569.87 L884.39 568.74 L885 567.62 L885.61 566.52 L886.22 565.43 L886.82 564.36 L887.43 563.3 L888.04 562.26 L888.64 561.23 L889.25 560.21 L889.86 559.2 L890.46 558.21 L891.07 557.23 L891.68 556.26 L892.29 555.3 L892.89 554.36 L893.5 553.42 L894.11 552.5 L894.71 551.59 L895.32 550.7 L895.93 549.84 L896.53 549.04 L897.14 548.29 L897.75 547.62 L898.36 547.04 L898.96 546.56 L899.57 546.19 L900.18 545.95 L900.78 545.85 L901.39 545.89 L902 546.07 L902.61 546.37 L903.21 546.77 L903.82 547.25 L904.43 547.8 L905.03 548.44 L905.64 549.19 L906.25 550.04 L906.85 551.02 L907.46 552.15 L908.07 553.42 L908.68 554.86 L909.28 556.46 L909.89 558.19 L910.5 560.02 L911.1 561.94 L911.71 563.92 L912.32 565.93 L912.92 567.94 L913.53 569.94 L914.14 571.91 L914.75 573.89 L915.35 575.86 L915.96 577.85 L916.57 579.87 L917.17 581.92 L917.78 584.02 L918.39 586.18 L919 588.41 L919.6 590.72 L920.21 593.12 L920.82 595.62 L921.42 598.24 L922.03 600.98 L922.64 603.85 L923.24 606.86 L923.85 610 L924.46 613.25 L925.07 616.58 L925.67 619.99 L926.28 623.45 L926.89 626.95 L927.49 630.46 L928.1 633.98 L928.71 637.49 L929.31 640.96 L929.92 644.37 L930.53 647.72 L931.14 650.99 L931.74 654.15 L932.35 657.19 L932.96 660.11 L933.56 662.9 L934.17 665.59 L934.78 668.17 L935.39 670.66 L935.99 673.06 L936.6 675.37 L937.21 677.61 L937.81 679.79 L938.42 681.9 L939.03 683.96 L939.63 685.97 L940.24 687.94 L940.85 689.88 L941.46 691.79 L942.06 693.68 L942.67 695.56 L943.28 697.41 L943.88 699.23 L944.49 701.02 L945.1 702.77 L945.7 704.49 L946.31 706.17 L946.92 707.8 L947.53 709.38 L948.13 710.91 L948.74 712.39 L949.35 713.81 L949.95 715.16 L950.56 716.46 L951.17 717.68 L951.78 718.83 L952.38 719.92 L952.99 720.95 L953.6 721.91 L954.2 722.82 L954.81 723.67 L955.42 724.48 L956.02 725.23 L956.63 725.95 L957.24 726.62 L957.85 727.25 L958.45 727.85 L959.06 728.42 L959.67 728.96 L960.27 729.47 L960.88 729.96 L961.49 730.43 L962.09 730.89 L962.7 731.32 L963.31 731.73 L963.92 732.13 L964.52 732.52 L965.13 732.88 L965.74 733.24 L966.34 733.58 L966.95 733.91 L967.56 734.22 L968.17 734.53 L968.77 734.83 L969.38 735.11 L969.99 735.39 L970.59 735.67 L971.2 735.94 L971.81 736.2 L972.41 736.45 L973.02 736.7 L973.63 736.95 L974.24 737.19 L974.84 737.42 L975.45 737.65 L976.06 737.88 L976.66 738.1 L977.27 738.32 L977.88 738.54 L978.48 738.75 L979.09 738.96 L979.7 739.17 L980.31 739.38 L980.91 739.58 L981.52 739.78 L982.13 739.98 L982.73 740.17 L983.34 740.36 L983.95 740.55 L984.56 740.73 L985.16 740.9 L985.77 741.07 L986.38 741.23 L986.98 741.38 L987.59 741.52 L988.2 741.66 L988.8 741.79 L989.41 741.91 L990.02 742.02 L990.63 742.12 L991.23 742.22 L991.84 742.31 L992.45 742.39 L993.05 742.46 L993.66 742.53 L994.27 742.59 L994.87 742.65 L995.48 742.7 L996.09 742.75 L996.7 742.79 L997.3 742.83 L997.91 742.87 L998.52 742.9 L999.12 742.93 L999.73 742.96 L1000.34 742.99 L1000.95 743.02 L1001.55 743.04 L1002.16 743.06 L1002.77 743.08 L1003.37 743.1 L1003.98 743.12 L1004.59 743.13 L1005.19 743.15 L1005.8 743.16 L1006.41 743.18 L1007.02 743.19 L1007.62 743.2 L1008.23 743.21 L1008.84 743.22 L1009.44 743.24 L1010.05 743.25 L1010.66 743.26 L1011.26 743.27 L1011.87 743.29 L1012.48 743.3" stroke-width="1.1" stroke-linejoin="round"/>
<path d="M733.23 742.55 L742.7 737.54 L752.16 734.8 L761.63 729.73 L771.1 716.29 L780.56 685.3 L790.03 669.39 L799.49 590.14 L808.96 575.47 L818.43 534.19 L827.89 562.3 L837.36 567.51 L846.82 587.26 L856.29 597.82 L865.76 597.82 L875.22 587.26 L884.69 567.51 L894.15 562.3 L903.62 534.19 L913.09 575.47 L922.55 590.14 L932.02 669.39 L941.48 685.3 L950.95 716.29 L960.42 729.73 L969.88 734.8 L979.35 737.54 L988.81 742.55" stroke-width="1.1" stroke-linejoin="round"/>
<path d="M733.23 741.86V743.23M732.23 741.86h2M732.23 743.23h2M742.7 736.44V738.64M741.7 736.44h2M741.7 738.64h2M752.16 733.7V735.9M751.16 733.7h2M751.16 735.9h2M761.63 728.35V731.1M760.63 728.35h2M760.63 731.1h2M771.1 714.64V717.93M770.1 714.64h2M770.1 717.93h2M780.56 682.56V688.04M779.56 682.56h2M779.56 688.04h2M790.03 667.34V671.45M789.03 667.34h2M789.03 671.45h2M799.49 585.61V594.66M798.49 585.61h2M798.49 594.66h2M808.96 570.94V579.99M807.96 570.94h2M807.96 579.99h2M818.43 528.84V539.54M817.43 528.84h2M817.43 539.54h2M827.89 557.64V566.96M826.89 557.64h2M826.89 566.96h2M837.36 562.99V572.04M836.36 562.99h2M836.36 572.04h2M846.82 582.87V591.65M845.82 582.87h2M845.82 591.65h2M856.29 593.7V601.93M855.29 593.7h2M855.29 601.93h2M865.76 593.7V601.93M864.76 593.7h2M864.76 601.93h2M875.22 582.87V591.65M874.22 582.87h2M874.22 591.65h2M884.69 562.99V572.04M883.69 562.99h2M883.69 572.04h2M894.15 557.64V566.96M893.15 557.64h2M893.15 566.96h2M903.62 528.84V539.54M902.62 528.84h2M902.62 539.54h2M913.09 570.94V579.99M912.09 570.94h2M912.09 579.99h2M922.55 585.61V594.66M921.55 585.61h2M921.55 594.66h2M932.02 667.34V671.45M931.02 667.34h2M931.02 671.45h2M941.48 682.56V688.04M940.48 682.56h2M940.48 688.04h2M950.95 714.64V717.93M949.95 714.64h2M949.95 717.93h2M960.42 728.35V731.1M959.42 728.35h2M959.42 731.1h2M969.88 733.7V735.9M968.88 733.7h2M968.88 735.9h2M979.35 736.44V738.64M978.35 736.44h2M978.35 738.64h2M988.81 741.86V743.23M987.81 741.86h2M987.81 743.23h2" stroke-width="1.25" stroke="#2a2a2a"/>
<circle cx="733.23" cy="742.55" r="2.1" fill="#000" stroke="none"/>
<circle cx="742.7" cy="737.54" r="2.1" fill="#000" stroke="none"/>
<circle cx="752.16" cy="734.8" r="2.1" fill="#000" stroke="none"/>
<circle cx="761.63" cy="729.73" r="2.1" fill="#000" stroke="none"/>
<circle cx="771.1" cy="716.29" r="2.1" fill="#000" stroke="none"/>
<circle cx="780.56" cy="685.3" r="2.1" fill="#000" stroke="none"/>
<circle cx="790.03" cy="669.39" r="2.1" fill="#000" stroke="none"/>
<circle cx="799.49" cy="590.14" r="2.1" fill="#000" stroke="none"/>
<circle cx="808.96" cy="575.47" r="2.1" fill="#000" stroke="none"/>
<circle cx="818.43" cy="534.19" r="2.1" fill="#000" stroke="none"/>
<circle cx="827.89" cy="562.3" r="2.1" fill="#000" stroke="none"/>
<circle cx="837.36" cy="567.51" r="2.1" fill="#000" stroke="none"/>
<circle cx="846.82" cy="587.26" r="2.1" fill="#000" stroke="none"/>
<circle cx="856.29" cy="597.82" r="2.1" fill="#000" stroke="none"/>
<circle cx="865.76" cy="597.82" r="2.1" fill="#000" stroke="none"/>
<circle cx="875.22" cy="587.26" r="2.1" fill="#000" stroke="none"/>
<circle cx="884.69" cy="567.51" r="2.1" fill="#000" stroke="none"/>
<circle cx="894.15" cy="562.3" r="2.1" fill="#000" stroke="none"/>
<circle cx="903.62" cy="534.19" r="2.1" fill="#000" stroke="none"/>
<circle cx="913.09" cy="575.47" r="2.1" fill="#000" stroke="none"/>
<circle cx="922.55" cy="590.14" r="2.1" fill="#000" stroke="none"/>
<circle cx="932.02" cy="669.39" r="2.1" fill="#000" stroke="none"/>
<circle cx="941.48" cy="685.3" r="2.1" fill="#000" stroke="none"/>
<circle cx="950.95" cy="716.29" r="2.1" fill="#000" stroke="none"/>
<circle cx="960.42" cy="729.73" r="2.1" fill="#000" stroke="none"/>
<circle cx="969.88" cy="734.8" r="2.1" fill="#000" stroke="none"/>
<circle cx="979.35" cy="737.54" r="2.1" fill="#000" stroke="none"/>
<circle cx="988.81" cy="742.55" r="2.1" fill="#000" stroke="none"/>
</g>
<clipPath id="cp2"><rect x="107.1" y="828.5" width="331.2" height="344.2"/></clipPath>
<rect x="107.1" y="829" width="331.2" height="342.7" stroke-width="1"/>
<path d="M154.2 1171.7v-10M154.2 829v10M249 1171.7v-10M249 829v10M343.8 1171.7v-10M343.8 829v10M201.6 1171.7v-5M201.6 829v5M296.4 1171.7v-5M296.4 829v5M391.2 1171.7v-5M391.2 829v5M107.1 1137.43h5.3M438.3 1137.43h-5.3M107.1 1103.16h10.5M438.3 1103.16h-10.5M107.1 1068.89h5.3M438.3 1068.89h-5.3M107.1 1034.62h10.5M438.3 1034.62h-10.5M107.1 1000.35h5.3M438.3 1000.35h-5.3M107.1 966.08h10.5M438.3 966.08h-10.5M107.1 931.81h5.3M438.3 931.81h-5.3M107.1 897.54h10.5M438.3 897.54h-10.5M107.1 863.27h5.3M438.3 863.27h-5.3" stroke-width="0.9"/>
<g clip-path="url(#cp2)">
<path d="M121.02 1171.7 L121.57 1171.66 L122.12 1171.61 L122.67 1171.57 L123.22 1171.52 L123.77 1171.47 L124.33 1171.42 L124.88 1171.37 L125.43 1171.32 L125.98 1171.27 L126.53 1171.21 L127.08 1171.16 L127.63 1171.11 L128.18 1171.05 L128.73 1171 L129.28 1170.94 L129.84 1170.88 L130.39 1170.83 L130.94 1170.77 L131.49 1170.71 L132.04 1170.66 L132.59 1170.6 L133.14 1170.54 L133.69 1170.49 L134.24 1170.43 L134.79 1170.37 L135.34 1170.32 L135.9 1170.26 L136.45 1170.21 L137 1170.15 L137.55 1170.1 L138.1 1170.04 L138.65 1169.98 L139.2 1169.92 L139.75 1169.86 L140.3 1169.79 L140.85 1169.72 L141.4 1169.65 L141.96 1169.57 L142.51 1169.49 L143.06 1169.4 L143.61 1169.3 L144.16 1169.2 L144.71 1169.1 L145.26 1168.98 L145.81 1168.86 L146.36 1168.73 L146.91 1168.6 L147.47 1168.46 L148.02 1168.31 L148.57 1168.15 L149.12 1167.98 L149.67 1167.81 L150.22 1167.63 L150.77 1167.44 L151.32 1167.24 L151.87 1167.04 L152.42 1166.82 L152.97 1166.6 L153.53 1166.37 L154.08 1166.13 L154.63 1165.89 L155.18 1165.63 L155.73 1165.36 L156.28 1165.09 L156.83 1164.8 L157.38 1164.5 L157.93 1164.19 L158.48 1163.86 L159.03 1163.53 L159.59 1163.17 L160.14 1162.81 L160.69 1162.42 L161.24 1162.03 L161.79 1161.61 L162.34 1161.18 L162.89 1160.73 L163.44 1160.26 L163.99 1159.77 L164.54 1159.26 L165.1 1158.73 L165.65 1158.17 L166.2 1157.59 L166.75 1156.98 L167.3 1156.33 L167.85 1155.66 L168.4 1154.95 L168.95 1154.21 L169.5 1153.43 L170.05 1152.61 L170.6 1151.75 L171.16 1150.85 L171.71 1149.9 L172.26 1148.9 L172.81 1147.86 L173.36 1146.76 L173.91 1145.61 L174.46 1144.41 L175.01 1143.16 L175.56 1141.86 L176.11 1140.5 L176.67 1139.1 L177.22 1137.64 L177.77 1136.13 L178.32 1134.57 L178.87 1132.96 L179.42 1131.3 L179.97 1129.58 L180.52 1127.82 L181.07 1126.01 L181.62 1124.14 L182.17 1122.23 L182.73 1120.26 L183.28 1118.25 L183.83 1116.18 L184.38 1114.07 L184.93 1111.91 L185.48 1109.71 L186.03 1107.46 L186.58 1105.18 L187.13 1102.85 L187.68 1100.48 L188.23 1098.07 L188.79 1095.63 L189.34 1093.17 L189.89 1090.67 L190.44 1088.16 L190.99 1085.63 L191.54 1083.09 L192.09 1080.54 L192.64 1077.98 L193.19 1075.43 L193.74 1072.9 L194.3 1070.38 L194.85 1067.91 L195.4 1065.47 L195.95 1063.09 L196.5 1060.77 L197.05 1058.53 L197.6 1056.35 L198.15 1054.2 L198.7 1052.05 L199.25 1049.87 L199.8 1047.63 L200.36 1045.28 L200.91 1042.79 L201.46 1040.14 L202.01 1037.29 L202.56 1034.29 L203.11 1031.24 L203.66 1028.2 L204.21 1025.28 L204.76 1022.56 L205.31 1020.11 L205.87 1017.94 L206.42 1016.02 L206.97 1014.32 L207.52 1012.83 L208.07 1011.53 L208.62 1010.38 L209.17 1009.38 L209.72 1008.49 L210.27 1007.7 L210.82 1006.97 L211.37 1006.3 L211.93 1005.67 L212.48 1005.07 L213.03 1004.52 L213.58 1004.01 L214.13 1003.55 L214.68 1003.13 L215.23 1002.76 L215.78 1002.44 L216.33 1002.17 L216.88 1001.95 L217.43 1001.78 L217.99 1001.67 L218.54 1001.61 L219.09 1001.61 L219.64 1001.64 L220.19 1001.72 L220.74 1001.85 L221.29 1002 L221.84 1002.19 L222.39 1002.41 L222.94 1002.66 L223.5 1002.93 L224.05 1003.22 L224.6 1003.52 L225.15 1003.84 L225.7 1004.16 L226.25 1004.5 L226.8 1004.83 L227.35 1005.16 L227.9 1005.49 L228.45 1005.81 L229 1006.12 L229.56 1006.41 L230.11 1006.69 L230.66 1006.94 L231.21 1007.18 L231.76 1007.39 L232.31 1007.58 L232.86 1007.74 L233.41 1007.89 L233.96 1008.01 L234.51 1008.11 L235.06 1008.18 L235.62 1008.23 L236.17 1008.26 L236.72 1008.26 L237.27 1008.24 L237.82 1008.2 L238.37 1008.13 L238.92 1008.03 L239.47 1007.91 L240.02 1007.77 L240.57 1007.62 L241.13 1007.44 L241.68 1007.26 L242.23 1007.05 L242.78 1006.84 L243.33 1006.62 L243.88 1006.4 L244.43 1006.17 L244.98 1005.93 L245.53 1005.7 L246.08 1005.46 L246.63 1005.23 L247.19 1005.01 L247.74 1004.79 L248.29 1004.58 L248.84 1004.38 L249.39 1004.2 L249.94 1004.02 L250.49 1003.86 L251.04 1003.71 L251.59 1003.58 L252.14 1003.46 L252.7 1003.34 L253.25 1003.24 L253.8 1003.16 L254.35 1003.08 L254.9 1003.01 L255.45 1002.96 L256 1002.91 L256.55 1002.87 L257.1 1002.85 L257.65 1002.83 L258.2 1002.82 L258.76 1002.82 L259.31 1002.83 L259.86 1002.85 L260.41 1002.87 L260.96 1002.91 L261.51 1002.96 L262.06 1003.01 L262.61 1003.08 L263.16 1003.16 L263.71 1003.24 L264.26 1003.34 L264.82 1003.46 L265.37 1003.58 L265.92 1003.71 L266.47 1003.86 L267.02 1004.02 L267.57 1004.2 L268.12 1004.38 L268.67 1004.58 L269.22 1004.79 L269.77 1005.01 L270.33 1005.23 L270.88 1005.46 L271.43 1005.7 L271.98 1005.93 L272.53 1006.17 L273.08 1006.4 L273.63 1006.62 L274.18 1006.84 L274.73 1007.05 L275.28 1007.26 L275.83 1007.44 L276.39 1007.62 L276.94 1007.77 L277.49 1007.91 L278.04 1008.03 L278.59 1008.13 L279.14 1008.2 L279.69 1008.24 L280.24 1008.26 L280.79 1008.26 L281.34 1008.23 L281.9 1008.18 L282.45 1008.11 L283 1008.01 L283.55 1007.89 L284.1 1007.74 L284.65 1007.58 L285.2 1007.39 L285.75 1007.18 L286.3 1006.94 L286.85 1006.69 L287.4 1006.41 L287.96 1006.12 L288.51 1005.81 L289.06 1005.49 L289.61 1005.16 L290.16 1004.83 L290.71 1004.5 L291.26 1004.16 L291.81 1003.84 L292.36 1003.52 L292.91 1003.22 L293.46 1002.93 L294.02 1002.66 L294.57 1002.41 L295.12 1002.19 L295.67 1002 L296.22 1001.85 L296.77 1001.72 L297.32 1001.64 L297.87 1001.61 L298.42 1001.61 L298.97 1001.67 L299.53 1001.78 L300.08 1001.95 L300.63 1002.17 L301.18 1002.44 L301.73 1002.76 L302.28 1003.13 L302.83 1003.55 L303.38 1004.01 L303.93 1004.52 L304.48 1005.07 L305.03 1005.67 L305.59 1006.3 L306.14 1006.97 L306.69 1007.7 L307.24 1008.49 L307.79 1009.38 L308.34 1010.38 L308.89 1011.53 L309.44 1012.83 L309.99 1014.32 L310.54 1016.02 L311.09 1017.94 L311.65 1020.11 L312.2 1022.56 L312.75 1025.28 L313.3 1028.2 L313.85 1031.24 L314.4 1034.29 L314.95 1037.29 L315.5 1040.14 L316.05 1042.79 L316.6 1045.28 L317.16 1047.63 L317.71 1049.87 L318.26 1052.05 L318.81 1054.2 L319.36 1056.35 L319.91 1058.53 L320.46 1060.77 L321.01 1063.09 L321.56 1065.47 L322.11 1067.91 L322.66 1070.38 L323.22 1072.9 L323.77 1075.43 L324.32 1077.98 L324.87 1080.54 L325.42 1083.09 L325.97 1085.63 L326.52 1088.16 L327.07 1090.67 L327.62 1093.17 L328.17 1095.63 L328.73 1098.07 L329.28 1100.48 L329.83 1102.85 L330.38 1105.18 L330.93 1107.46 L331.48 1109.71 L332.03 1111.91 L332.58 1114.07 L333.13 1116.18 L333.68 1118.25 L334.23 1120.26 L334.79 1122.23 L335.34 1124.14 L335.89 1126.01 L336.44 1127.82 L336.99 1129.58 L337.54 1131.3 L338.09 1132.96 L338.64 1134.57 L339.19 1136.13 L339.74 1137.64 L340.29 1139.1 L340.85 1140.5 L341.4 1141.86 L341.95 1143.16 L342.5 1144.41 L343.05 1145.61 L343.6 1146.76 L344.15 1147.86 L344.7 1148.9 L345.25 1149.9 L345.8 1150.85 L346.36 1151.75 L346.91 1152.61 L347.46 1153.43 L348.01 1154.21 L348.56 1154.95 L349.11 1155.66 L349.66 1156.33 L350.21 1156.98 L350.76 1157.59 L351.31 1158.17 L351.86 1158.73 L352.42 1159.26 L352.97 1159.77 L353.52 1160.26 L354.07 1160.73 L354.62 1161.18 L355.17 1161.61 L355.72 1162.03 L356.27 1162.42 L356.82 1162.81 L357.37 1163.17 L357.93 1163.53 L358.48 1163.86 L359.03 1164.19 L359.58 1164.5 L360.13 1164.8 L360.68 1165.09 L361.23 1165.36 L361.78 1165.63 L362.33 1165.89 L362.88 1166.13 L363.43 1166.37 L363.99 1166.6 L364.54 1166.82 L365.09 1167.04 L365.64 1167.24 L366.19 1167.44 L366.74 1167.63 L367.29 1167.81 L367.84 1167.98 L368.39 1168.15 L368.94 1168.31 L369.49 1168.46 L370.05 1168.6 L370.6 1168.73 L371.15 1168.86 L371.7 1168.98 L372.25 1169.1 L372.8 1169.2 L373.35 1169.3 L373.9 1169.4 L374.45 1169.49 L375 1169.57 L375.56 1169.65 L376.11 1169.72 L376.66 1169.79 L377.21 1169.86 L377.76 1169.92 L378.31 1169.98 L378.86 1170.04 L379.41 1170.1 L379.96 1170.15 L380.51 1170.21 L381.06 1170.26 L381.62 1170.32 L382.17 1170.37 L382.72 1170.43 L383.27 1170.49 L383.82 1170.54 L384.37 1170.6 L384.92 1170.66 L385.47 1170.71 L386.02 1170.77 L386.57 1170.83 L387.12 1170.88 L387.68 1170.94 L388.23 1171 L388.78 1171.05 L389.33 1171.11 L389.88 1171.16 L390.43 1171.21 L390.98 1171.27 L391.53 1171.32 L392.08 1171.37 L392.63 1171.42 L393.19 1171.47 L393.74 1171.52 L394.29 1171.57 L394.84 1171.61 L395.39 1171.66 L395.94 1171.7" stroke-width="1.1" stroke-linejoin="round"/>
<path d="M135.24 1170.6 L144.72 1170.6 L154.2 1165.39 L163.68 1162.65 L173.16 1133.18 L182.64 1133.18 L192.12 1045.59 L201.6 1071.36 L211.08 917.28 L220.56 1040.65 L230.04 943.05 L239.52 1046.68 L249 930.99 L258.48 1039.55 L267.96 930.99 L277.44 1046.68 L286.92 943.05 L296.4 1040.65 L305.88 917.28 L315.36 1071.36 L324.84 1045.59 L334.32 1133.18 L343.8 1133.18 L353.28 1162.65 L362.76 1165.39 L372.24 1170.6 L381.72 1170.6" stroke-width="1.1" stroke-linejoin="round"/>
<path d="M154.2 1164.02V1166.77M153.2 1164.02h2M153.2 1166.77h2M163.68 1161.56V1163.75M162.68 1161.56h2M162.68 1163.75h2M192.12 1044.22V1046.96M191.12 1044.22h2M191.12 1046.96h2M211.08 913.58V920.98M210.08 913.58h2M210.08 920.98h2M220.56 1039.28V1042.02M219.56 1039.28h2M219.56 1042.02h2M230.04 939.35V946.75M229.04 939.35h2M229.04 946.75h2M239.52 1045.31V1048.05M238.52 1045.31h2M238.52 1048.05h2M249 927.29V934.69M248 927.29h2M248 934.69h2M258.48 1038.18V1040.93M257.48 1038.18h2M257.48 1040.93h2M267.96 927.29V934.69M266.96 927.29h2M266.96 934.69h2M277.44 1045.31V1048.05M276.44 1045.31h2M276.44 1048.05h2M286.92 939.35V946.75M285.92 939.35h2M285.92 946.75h2M296.4 1039.28V1042.02M295.4 1039.28h2M295.4 1042.02h2M305.88 913.58V920.98M304.88 913.58h2M304.88 920.98h2M324.84 1044.22V1046.96M323.84 1044.22h2M323.84 1046.96h2M353.28 1161.56V1163.75M352.28 1161.56h2M352.28 1163.75h2M362.76 1164.02V1166.77M361.76 1164.02h2M361.76 1166.77h2" stroke-width="1.25" stroke="#2a2a2a"/>
<circle cx="135.24" cy="1170.6" r="2.1" fill="#000" stroke="none"/>
<circle cx="144.72" cy="1170.6" r="2.1" fill="#000" stroke="none"/>
<circle cx="154.2" cy="1165.39" r="2.1" fill="#000" stroke="none"/>
<circle cx="163.68" cy="1162.65" r="2.1" fill="#000" stroke="none"/>
<circle cx="173.16" cy="1133.18" r="2.1" fill="#000" stroke="none"/>
<circle cx="182.64" cy="1133.18" r="2.1" fill="#000" stroke="none"/>
<circle cx="192.12" cy="1045.59" r="2.1" fill="#000" stroke="none"/>
<circle cx="201.6" cy="1071.36" r="2.1" fill="#000" stroke="none"/>
<circle cx="211.08" cy="917.28" r="2.1" fill="#000" stroke="none"/>
<circle cx="220.56" cy="1040.65" r="2.1" fill="#000" stroke="none"/>
<circle cx="230.04" cy="943.05" r="2.1" fill="#000" stroke="none"/>
<circle cx="239.52" cy="1046.68" r="2.1" fill="#000" stroke="none"/>
<circle cx="249" cy="930.99" r="2.1" fill="#000" stroke="none"/>
<circle cx="258.48" cy="1039.55" r="2.1" fill="#000" stroke="none"/>
<circle cx="267.96" cy="930.99" r="2.1" fill="#000" stroke="none"/>
<circle cx="277.44" cy="1046.68" r="2.1" fill="#000" stroke="none"/>
<circle cx="286.92" cy="943.05" r="2.1" fill="#000" stroke="none"/>
<circle cx="296.4" cy="1040.65" r="2.1" fill="#000" stroke="none"/>
<circle cx="305.88" cy="917.28" r="2.1" fill="#000" stroke="none"/>
<circle cx="315.36" cy="1071.36" r="2.1" fill="#000" stroke="none"/>
<circle cx="324.84" cy="1045.59" r="2.1" fill="#000" stroke="none"/>
<circle cx="334.32" cy="1133.18" r="2.1" fill="#000" stroke="none"/>
<circle cx="343.8" cy="1133.18" r="2.1" fill="#000" stroke="none"/>
<circle cx="353.28" cy="1162.65" r="2.1" fill="#000" stroke="none"/>
<circle cx="362.76" cy="1165.39" r="2.1" fill="#000" stroke="none"/>
<circle cx="372.24" cy="1170.6" r="2.1" fill="#000" stroke="none"/>
<circle cx="381.72" cy="1170.6" r="2.1" fill="#000" stroke="none"/>
</g>
<clipPath id="cp3"><rect x="714.3" y="828.5" width="331.3" height="344.3"/></clipPath>
<rect x="714.3" y="829" width="331.3" height="342.8" stroke-width="1"/>
<path d="M761.63 1171.8v-10M761.63 829v10M856.29 1171.8v-10M856.29 829v10M950.95 1171.8v-10M950.95 829v10M808.96 1171.8v-5M808.96 829v5M903.62 1171.8v-5M903.62 829v5M998.28 1171.8v-5M998.28 829v5M714.3 1137.52h5.3M1045.6 1137.52h-5.3M714.3 1103.24h10.5M1045.6 1103.24h-10.5M714.3 1068.96h5.3M1045.6 1068.96h-5.3M714.3 1034.68h10.5M1045.6 1034.68h-10.5M714.3 1000.4h5.3M1045.6 1000.4h-5.3M714.3 966.12h10.5M1045.6 966.12h-10.5M714.3 931.84h5.3M1045.6 931.84h-5.3M714.3 897.56h10.5M1045.6 897.56h-10.5M714.3 863.28h5.3M1045.6 863.28h-5.3" stroke-width="0.9"/>
<g clip-path="url(#cp3)">
<path d="M755.95 1171.8 L756.45 1171.8 L756.94 1171.8 L757.44 1171.8 L757.94 1171.8 L758.44 1171.8 L758.93 1171.8 L759.43 1171.8 L759.93 1171.78 L760.42 1171.75 L760.92 1171.72 L761.42 1171.68 L761.91 1171.64 L762.41 1171.6 L762.91 1171.55 L763.41 1171.51 L763.9 1171.46 L764.4 1171.41 L764.9 1171.37 L765.39 1171.32 L765.89 1171.28 L766.39 1171.24 L766.88 1171.21 L767.38 1171.17 L767.88 1171.15 L768.38 1171.12 L768.87 1171.11 L769.37 1171.09 L769.87 1171.09 L770.36 1171.09 L770.86 1171.11 L771.36 1171.13 L771.85 1171.15 L772.35 1171.18 L772.85 1171.21 L773.35 1171.23 L773.84 1171.25 L774.34 1171.25 L774.84 1171.23 L775.33 1171.19 L775.83 1171.12 L776.33 1171.02 L776.82 1170.89 L777.32 1170.72 L777.82 1170.51 L778.32 1170.25 L778.81 1169.93 L779.31 1169.57 L779.81 1169.14 L780.3 1168.65 L780.8 1168.1 L781.3 1167.47 L781.8 1166.78 L782.29 1166.01 L782.79 1165.18 L783.29 1164.29 L783.78 1163.33 L784.28 1162.3 L784.78 1161.21 L785.27 1160.06 L785.77 1158.84 L786.27 1157.57 L786.77 1156.24 L787.26 1154.86 L787.76 1153.43 L788.26 1151.96 L788.75 1150.46 L789.25 1148.91 L789.75 1147.34 L790.24 1145.73 L790.74 1144.11 L791.24 1142.47 L791.74 1140.83 L792.23 1139.19 L792.73 1137.56 L793.23 1135.95 L793.72 1134.37 L794.22 1132.83 L794.72 1131.34 L795.21 1129.9 L795.71 1128.52 L796.21 1127.19 L796.71 1125.92 L797.2 1124.7 L797.7 1123.54 L798.2 1122.44 L798.69 1121.39 L799.19 1120.41 L799.69 1119.48 L800.18 1118.6 L800.68 1117.79 L801.18 1117.04 L801.68 1116.35 L802.17 1115.72 L802.67 1115.15 L803.17 1114.65 L803.66 1114.21 L804.16 1113.84 L804.66 1113.54 L805.15 1113.3 L805.65 1113.11 L806.15 1112.98 L806.65 1112.88 L807.14 1112.83 L807.64 1112.8 L808.14 1112.8 L808.63 1112.82 L809.13 1112.85 L809.63 1112.89 L810.12 1112.92 L810.62 1112.96 L811.12 1113 L811.62 1113.03 L812.11 1113.04 L812.61 1113.05 L813.11 1113.03 L813.6 1112.99 L814.1 1112.93 L814.6 1112.85 L815.09 1112.73 L815.59 1112.57 L816.09 1112.38 L816.59 1112.14 L817.08 1111.85 L817.58 1111.5 L818.08 1111.1 L818.57 1110.64 L819.07 1110.11 L819.57 1109.52 L820.07 1108.87 L820.56 1108.18 L821.06 1107.44 L821.56 1106.66 L822.05 1105.84 L822.55 1104.99 L823.05 1104.12 L823.54 1103.23 L824.04 1102.32 L824.54 1101.36 L825.04 1100.36 L825.53 1099.31 L826.03 1098.18 L826.53 1096.99 L827.02 1095.71 L827.52 1094.33 L828.02 1092.85 L828.51 1091.26 L829.01 1089.58 L829.51 1087.81 L830.01 1085.98 L830.5 1084.1 L831 1082.18 L831.5 1080.24 L831.99 1078.29 L832.49 1076.34 L832.99 1074.41 L833.48 1072.49 L833.98 1070.58 L834.48 1068.65 L834.98 1066.7 L835.47 1064.71 L835.97 1062.67 L836.47 1060.57 L836.96 1058.4 L837.46 1056.15 L837.96 1053.8 L838.45 1051.37 L838.95 1048.89 L839.45 1046.35 L839.95 1043.78 L840.44 1041.18 L840.94 1038.58 L841.44 1036 L841.93 1033.43 L842.43 1030.9 L842.93 1028.41 L843.42 1025.96 L843.92 1023.54 L844.42 1021.16 L844.92 1018.81 L845.41 1016.48 L845.91 1014.18 L846.41 1011.9 L846.9 1009.64 L847.4 1007.4 L847.9 1005.18 L848.39 1002.99 L848.89 1000.85 L849.39 998.74 L849.89 996.69 L850.38 994.7 L850.88 992.77 L851.38 990.91 L851.87 989.13 L852.37 987.41 L852.87 985.75 L853.36 984.13 L853.86 982.52 L854.36 980.91 L854.86 979.28 L855.35 977.63 L855.85 975.92 L856.35 974.14 L856.84 972.29 L857.34 970.37 L857.84 968.41 L858.33 966.43 L858.83 964.44 L859.33 962.47 L859.83 960.54 L860.32 958.66 L860.82 956.84 L861.32 955.11 L861.81 953.43 L862.31 951.82 L862.81 950.25 L863.31 948.73 L863.8 947.24 L864.3 945.78 L864.8 944.33 L865.29 942.9 L865.79 941.48 L866.29 940.05 L866.78 938.64 L867.28 937.24 L867.78 935.88 L868.28 934.56 L868.77 933.3 L869.27 932.1 L869.77 930.98 L870.26 929.95 L870.76 929.01 L871.26 928.18 L871.75 927.44 L872.25 926.78 L872.75 926.2 L873.25 925.68 L873.74 925.23 L874.24 924.83 L874.74 924.47 L875.23 924.15 L875.73 923.86 L876.23 923.6 L876.72 923.37 L877.22 923.17 L877.72 923 L878.22 922.87 L878.71 922.76 L879.21 922.69 L879.71 922.66 L880.2 922.66 L880.7 922.69 L881.2 922.76 L881.69 922.87 L882.19 923 L882.69 923.17 L883.19 923.37 L883.68 923.6 L884.18 923.86 L884.68 924.15 L885.17 924.47 L885.67 924.83 L886.17 925.23 L886.66 925.68 L887.16 926.2 L887.66 926.78 L888.16 927.44 L888.65 928.18 L889.15 929.01 L889.65 929.95 L890.14 930.98 L890.64 932.1 L891.14 933.3 L891.63 934.56 L892.13 935.88 L892.63 937.24 L893.13 938.64 L893.62 940.05 L894.12 941.48 L894.62 942.9 L895.11 944.33 L895.61 945.78 L896.11 947.24 L896.6 948.73 L897.1 950.25 L897.6 951.82 L898.1 953.43 L898.59 955.11 L899.09 956.84 L899.59 958.66 L900.08 960.54 L900.58 962.47 L901.08 964.44 L901.58 966.43 L902.07 968.41 L902.57 970.37 L903.07 972.29 L903.56 974.14 L904.06 975.92 L904.56 977.63 L905.05 979.28 L905.55 980.91 L906.05 982.52 L906.55 984.13 L907.04 985.75 L907.54 987.41 L908.04 989.13 L908.53 990.91 L909.03 992.77 L909.53 994.7 L910.02 996.69 L910.52 998.74 L911.02 1000.85 L911.52 1002.99 L912.01 1005.18 L912.51 1007.4 L913.01 1009.64 L913.5 1011.9 L914 1014.18 L914.5 1016.48 L914.99 1018.81 L915.49 1021.16 L915.99 1023.54 L916.49 1025.96 L916.98 1028.41 L917.48 1030.9 L917.98 1033.43 L918.47 1036 L918.97 1038.58 L919.47 1041.18 L919.96 1043.78 L920.46 1046.35 L920.96 1048.89 L921.46 1051.37 L921.95 1053.8 L922.45 1056.15 L922.95 1058.4 L923.44 1060.57 L923.94 1062.67 L924.44 1064.71 L924.93 1066.7 L925.43 1068.65 L925.93 1070.58 L926.43 1072.49 L926.92 1074.41 L927.42 1076.34 L927.92 1078.29 L928.41 1080.24 L928.91 1082.18 L929.41 1084.1 L929.9 1085.98 L930.4 1087.81 L930.9 1089.58 L931.4 1091.26 L931.89 1092.85 L932.39 1094.33 L932.89 1095.71 L933.38 1096.99 L933.88 1098.18 L934.38 1099.31 L934.87 1100.36 L935.37 1101.36 L935.87 1102.32 L936.37 1103.23 L936.86 1104.12 L937.36 1104.99 L937.86 1105.84 L938.35 1106.66 L938.85 1107.44 L939.35 1108.18 L939.84 1108.87 L940.34 1109.52 L940.84 1110.11 L941.34 1110.64 L941.83 1111.1 L942.33 1111.5 L942.83 1111.85 L943.32 1112.14 L943.82 1112.38 L944.32 1112.57 L944.82 1112.73 L945.31 1112.85 L945.81 1112.93 L946.31 1112.99 L946.8 1113.03 L947.3 1113.05 L947.8 1113.04 L948.29 1113.03 L948.79 1113 L949.29 1112.96 L949.79 1112.92 L950.28 1112.89 L950.78 1112.85 L951.28 1112.82 L951.77 1112.8 L952.27 1112.8 L952.77 1112.83 L953.26 1112.88 L953.76 1112.98 L954.26 1113.11 L954.76 1113.3 L955.25 1113.54 L955.75 1113.84 L956.25 1114.21 L956.74 1114.65 L957.24 1115.15 L957.74 1115.72 L958.23 1116.35 L958.73 1117.04 L959.23 1117.79 L959.73 1118.6 L960.22 1119.48 L960.72 1120.41 L961.22 1121.39 L961.71 1122.44 L962.21 1123.54 L962.71 1124.7 L963.2 1125.92 L963.7 1127.19 L964.2 1128.52 L964.7 1129.9 L965.19 1131.34 L965.69 1132.83 L966.19 1134.37 L966.68 1135.95 L967.18 1137.56 L967.68 1139.19 L968.17 1140.83 L968.67 1142.47 L969.17 1144.11 L969.67 1145.73 L970.16 1147.34 L970.66 1148.91 L971.16 1150.46 L971.65 1151.96 L972.15 1153.43 L972.65 1154.86 L973.14 1156.24 L973.64 1157.57 L974.14 1158.84 L974.64 1160.06 L975.13 1161.21 L975.63 1162.3 L976.13 1163.33 L976.62 1164.29 L977.12 1165.18 L977.62 1166.01 L978.11 1166.78 L978.61 1167.47 L979.11 1168.1 L979.61 1168.65 L980.1 1169.14 L980.6 1169.57 L981.1 1169.93 L981.59 1170.25 L982.09 1170.51 L982.59 1170.72 L983.09 1170.89 L983.58 1171.02 L984.08 1171.12 L984.58 1171.19 L985.07 1171.23 L985.57 1171.25 L986.07 1171.25 L986.56 1171.23 L987.06 1171.21 L987.56 1171.18 L988.06 1171.15 L988.55 1171.13 L989.05 1171.11 L989.55 1171.09 L990.04 1171.09 L990.54 1171.09 L991.04 1171.11 L991.53 1171.12 L992.03 1171.15 L992.53 1171.17 L993.03 1171.21 L993.52 1171.24 L994.02 1171.28 L994.52 1171.32 L995.01 1171.37 L995.51 1171.41 L996.01 1171.46 L996.5 1171.51 L997 1171.55 L997.5 1171.6 L998 1171.64 L998.49 1171.68 L998.99 1171.72 L999.49 1171.75 L999.98 1171.78 L1000.48 1171.8 L1000.98 1171.8 L1001.47 1171.8 L1001.97 1171.8 L1002.47 1171.8 L1002.97 1171.8 L1003.46 1171.8 L1003.96 1171.8" stroke-width="1.1" stroke-linejoin="round"/>
<path d="M771.1 1163.44 L780.56 1170.29 L790.03 1133.82 L799.49 1110.51 L808.96 1129.43 L818.43 1077.46 L827.89 1039.48 L837.36 1098.58 L846.82 1002.73 L856.29 834.48 L865.76 958.44 L875.22 962.01 L884.69 962.01 L894.15 958.44 L903.62 834.48 L913.09 1002.73 L922.55 1098.58 L932.02 1039.48 L941.48 1077.46 L950.95 1129.43 L960.42 1110.51 L969.88 1133.82 L979.35 1170.29 L988.81 1163.44" stroke-width="1.1" stroke-linejoin="round"/>
<path d="M771.1 1154.66V1172.21M770.1 1154.66h2M770.1 1172.21h2M780.56 1168.23V1172.35M779.56 1168.23h2M779.56 1172.35h2M790.03 1115.31V1152.33M789.03 1115.31h2M789.03 1152.33h2M799.49 1087.2V1133.82M798.49 1087.2h2M798.49 1133.82h2M808.96 1110.23V1148.63M807.96 1110.23h2M807.96 1148.63h2M818.43 1049.08V1105.85M817.43 1049.08h2M817.43 1105.85h2M827.89 1005.2V1073.76M826.89 1005.2h2M826.89 1073.76h2M837.36 1073.21V1123.95M836.36 1073.21h2M836.36 1123.95h2M846.82 964.34V1041.12M845.82 964.34h2M845.82 1041.12h2M856.29 780.32V888.65M855.29 780.32h2M855.29 888.65h2M865.76 915.66V1001.22M864.76 915.66h2M864.76 1001.22h2M875.22 919.5V1004.51M874.22 919.5h2M874.22 1004.51h2M884.69 919.5V1004.51M883.69 919.5h2M883.69 1004.51h2M894.15 915.66V1001.22M893.15 915.66h2M893.15 1001.22h2M903.62 780.32V888.65M902.62 780.32h2M902.62 888.65h2M913.09 964.34V1041.12M912.09 964.34h2M912.09 1041.12h2M922.55 1073.21V1123.95M921.55 1073.21h2M921.55 1123.95h2M932.02 1005.2V1073.76M931.02 1005.2h2M931.02 1073.76h2M941.48 1049.08V1105.85M940.48 1049.08h2M940.48 1105.85h2M950.95 1110.23V1148.63M949.95 1110.23h2M949.95 1148.63h2M960.42 1087.2V1133.82M959.42 1087.2h2M959.42 1133.82h2M969.88 1115.31V1152.33M968.88 1115.31h2M968.88 1152.33h2M979.35 1168.23V1172.35M978.35 1168.23h2M978.35 1172.35h2M988.81 1154.66V1172.21M987.81 1154.66h2M987.81 1172.21h2" stroke-width="1.25" stroke="#2a2a2a"/>
<circle cx="771.1" cy="1163.44" r="2.1" fill="#000" stroke="none"/>
<circle cx="780.56" cy="1170.29" r="2.1" fill="#000" stroke="none"/>
<circle cx="790.03" cy="1133.82" r="2.1" fill="#000" stroke="none"/>
<circle cx="799.49" cy="1110.51" r="2.1" fill="#000" stroke="none"/>
<circle cx="808.96" cy="1129.43" r="2.1" fill="#000" stroke="none"/>
<circle cx="818.43" cy="1077.46" r="2.1" fill="#000" stroke="none"/>
<circle cx="827.89" cy="1039.48" r="2.1" fill="#000" stroke="none"/>
<circle cx="837.36" cy="1098.58" r="2.1" fill="#000" stroke="none"/>
<circle cx="846.82" cy="1002.73" r="2.1" fill="#000" stroke="none"/>
<circle cx="856.29" cy="834.48" r="2.1" fill="#000" stroke="none"/>
<circle cx="865.76" cy="958.44" r="2.1" fill="#000" stroke="none"/>
<circle cx="875.22" cy="962.01" r="2.1" fill="#000" stroke="none"/>
<circle cx="884.69" cy="962.01" r="2.1" fill="#000" stroke="none"/>
<circle cx="894.15" cy="958.44" r="2.1" fill="#000" stroke="none"/>
<circle cx="903.62" cy="834.48" r="2.1" fill="#000" stroke="none"/>
<circle cx="913.09" cy="1002.73" r="2.1" fill="#000" stroke="none"/>
<circle cx="922.55" cy="1098.58" r="2.1" fill="#000" stroke="none"/>
<circle cx="932.02" cy="1039.48" r="2.1" fill="#000" stroke="none"/>
<circle cx="941.48" cy="1077.46" r="2.1" fill="#000" stroke="none"/>
<circle cx="950.95" cy="1129.43" r="2.1" fill="#000" stroke="none"/>
<circle cx="960.42" cy="1110.51" r="2.1" fill="#000" stroke="none"/>
<circle cx="969.88" cy="1133.82" r="2.1" fill="#000" stroke="none"/>
<circle cx="979.35" cy="1170.29" r="2.1" fill="#000" stroke="none"/>
<circle cx="988.81" cy="1163.44" r="2.1" fill="#000" stroke="none"/>
</g>
</g>
<g id="lowtext" font-family='"Liberation Sans", sans-serif' fill="#000" opacity="0.999">
<text x="160.9" y="760.4" font-size="16" text-anchor="middle">30</text>
<text x="269.9" y="760.4" font-size="16" text-anchor="middle">40</text>
<text x="378.9" y="760.4" font-size="16" text-anchor="middle">50</text>
<text x="103.7" y="750.1" font-size="15.7" text-anchor="end">0</text>
<text x="103.7" y="681.88" font-size="15.7" text-anchor="end">5</text>
<text x="103.7" y="613.66" font-size="15.7" text-anchor="end">10</text>
<text x="103.7" y="545.44" font-size="15.7" text-anchor="end">15</text>
<text x="103.7" y="477.22" font-size="15.7" text-anchor="end">20</text>
<text x="103.7" y="409" font-size="15.7" text-anchor="end">25</text>
<text x="272.3" y="782" font-size="19.5" text-anchor="middle">Z</text>
<text transform="translate(70.2 573.35) rotate(-90)" font-size="19.9" text-anchor="middle">Y(Z) (%)</text>
<text x="129.4" y="431.3" font-size="21.2" font-weight="bold">d</text>
<text x="367.7" y="441.4" font-size="17.3" text-anchor="end">181</text>
<text x="368.3" y="450.6" font-size="30.5">Au</text>
<text x="761.63" y="760.1" font-size="16" text-anchor="middle">30</text>
<text x="856.29" y="760.1" font-size="16" text-anchor="middle">40</text>
<text x="950.95" y="760.1" font-size="16" text-anchor="middle">50</text>
<text x="1045.61" y="760.1" font-size="16" text-anchor="middle">60</text>
<text x="710.9" y="749.8" font-size="15.7" text-anchor="end">0</text>
<text x="710.9" y="681.24" font-size="15.7" text-anchor="end">5</text>
<text x="710.9" y="612.68" font-size="15.7" text-anchor="end">10</text>
<text x="710.9" y="544.12" font-size="15.7" text-anchor="end">15</text>
<text x="710.9" y="475.56" font-size="15.7" text-anchor="end">20</text>
<text x="710.9" y="407" font-size="15.7" text-anchor="end">25</text>
<text x="879.55" y="781.7" font-size="19.5" text-anchor="middle">Z</text>
<text transform="translate(677.4 572.2) rotate(-90)" font-size="19.9" text-anchor="middle">Y(Z) (%)</text>
<text x="736.6" y="431.3" font-size="21.2" font-weight="bold">e</text>
<text x="974.9" y="441.4" font-size="17.3" text-anchor="end">196</text>
<text x="975.5" y="450.6" font-size="30.5">Tl</text>
<text x="154.2" y="1188.5" font-size="16" text-anchor="middle">30</text>
<text x="249" y="1188.5" font-size="16" text-anchor="middle">40</text>
<text x="343.8" y="1188.5" font-size="16" text-anchor="middle">50</text>
<text x="438.6" y="1188.5" font-size="16" text-anchor="middle">60</text>
<text x="103.7" y="1178.2" font-size="15.7" text-anchor="end">0</text>
<text x="103.7" y="1109.66" font-size="15.7" text-anchor="end">5</text>
<text x="103.7" y="1041.12" font-size="15.7" text-anchor="end">10</text>
<text x="103.7" y="972.58" font-size="15.7" text-anchor="end">15</text>
<text x="103.7" y="904.04" font-size="15.7" text-anchor="end">20</text>
<text x="103.7" y="835.5" font-size="15.7" text-anchor="end">25</text>
<text x="272.3" y="1210.1" font-size="19.5" text-anchor="middle">Z</text>
<text transform="translate(70.2 1000.65) rotate(-90)" font-size="19.9" text-anchor="middle">Y(Z) (%)</text>
<text x="129.4" y="856.6" font-size="21.2" font-weight="bold">f</text>
<text x="367.7" y="874" font-size="17.3" text-anchor="end">190</text>
<text x="368.3" y="883.9" font-size="30.5">Pb</text>
<text x="761.63" y="1188.6" font-size="16" text-anchor="middle">30</text>
<text x="856.29" y="1188.6" font-size="16" text-anchor="middle">40</text>
<text x="950.95" y="1188.6" font-size="16" text-anchor="middle">50</text>
<text x="1045.61" y="1188.6" font-size="16" text-anchor="middle">60</text>
<text x="710.9" y="1178.3" font-size="15.7" text-anchor="end">0</text>
<text x="710.9" y="1109.74" font-size="15.7" text-anchor="end">5</text>
<text x="710.9" y="1041.18" font-size="15.7" text-anchor="end">10</text>
<text x="710.9" y="972.62" font-size="15.7" text-anchor="end">15</text>
<text x="710.9" y="904.06" font-size="15.7" text-anchor="end">20</text>
<text x="710.9" y="835.5" font-size="15.7" text-anchor="end">25</text>
<text x="879.55" y="1210.2" font-size="19.5" text-anchor="middle">Z</text>
<text transform="translate(677.4 1000.7) rotate(-90)" font-size="19.9" text-anchor="middle">Y(Z) (%)</text>
<text x="736.6" y="856.6" font-size="21.2" font-weight="bold">g</text>
<text x="974.9" y="874" font-size="17.3" text-anchor="end">196</text>
<text x="975.5" y="883.9" font-size="30.5">At</text>
</g>
</svg>
</body></html>
